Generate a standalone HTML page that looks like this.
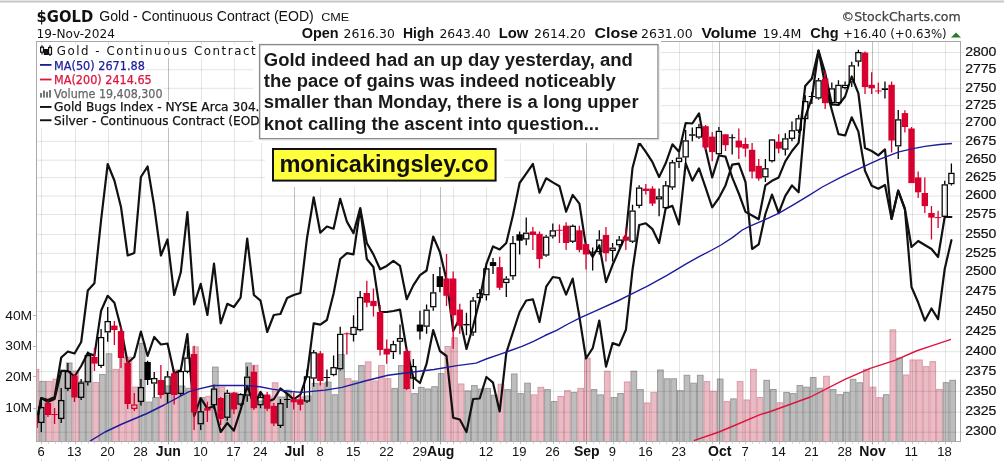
<!DOCTYPE html>
<html><head><meta charset="utf-8"><title>$GOLD chart</title>
<style>
html,body{margin:0;padding:0;background:#fff;}
body{width:1004px;height:461px;position:relative;overflow:hidden;}
</style></head><body>
<svg width="1004" height="461" viewBox="0 0 1004 461" style="position:absolute;left:0;top:0">
<defs><clipPath id="cp"><rect x="37.0" y="42.0" width="923.0" height="399.5"/></clipPath></defs>
<g clip-path="url(#cp)">
<rect x="33.14" y="369.40" width="5.64" height="74.10" fill="#e9bbc4" stroke="#dc98a5" stroke-width="1"/>
<rect x="39.78" y="381.40" width="5.64" height="62.10" fill="#bdbdbd" stroke="#9a9a9a" stroke-width="1"/>
<rect x="46.42" y="381.40" width="5.64" height="62.10" fill="#e9bbc4" stroke="#dc98a5" stroke-width="1"/>
<rect x="53.06" y="379.10" width="5.64" height="64.40" fill="#e9bbc4" stroke="#dc98a5" stroke-width="1"/>
<rect x="59.71" y="369.90" width="5.64" height="73.60" fill="#bdbdbd" stroke="#9a9a9a" stroke-width="1"/>
<rect x="66.35" y="363.00" width="5.64" height="80.50" fill="#bdbdbd" stroke="#9a9a9a" stroke-width="1"/>
<rect x="72.99" y="371.00" width="5.64" height="72.50" fill="#e9bbc4" stroke="#dc98a5" stroke-width="1"/>
<rect x="79.64" y="381.40" width="5.64" height="62.10" fill="#bdbdbd" stroke="#9a9a9a" stroke-width="1"/>
<rect x="86.28" y="353.80" width="5.64" height="89.70" fill="#bdbdbd" stroke="#9a9a9a" stroke-width="1"/>
<rect x="92.92" y="382.50" width="5.64" height="61.00" fill="#e9bbc4" stroke="#dc98a5" stroke-width="1"/>
<rect x="99.57" y="374.50" width="5.64" height="69.00" fill="#bdbdbd" stroke="#9a9a9a" stroke-width="1"/>
<rect x="106.21" y="353.80" width="5.64" height="89.70" fill="#bdbdbd" stroke="#9a9a9a" stroke-width="1"/>
<rect x="112.85" y="369.40" width="5.64" height="74.10" fill="#e9bbc4" stroke="#dc98a5" stroke-width="1"/>
<rect x="119.49" y="357.20" width="5.64" height="86.30" fill="#e9bbc4" stroke="#dc98a5" stroke-width="1"/>
<rect x="126.14" y="357.20" width="5.64" height="86.30" fill="#e9bbc4" stroke="#dc98a5" stroke-width="1"/>
<rect x="132.78" y="387.10" width="5.64" height="56.40" fill="#e9bbc4" stroke="#dc98a5" stroke-width="1"/>
<rect x="139.42" y="343.40" width="5.64" height="100.10" fill="#bdbdbd" stroke="#9a9a9a" stroke-width="1"/>
<rect x="146.07" y="402.10" width="5.64" height="41.40" fill="#bdbdbd" stroke="#9a9a9a" stroke-width="1"/>
<rect x="152.71" y="397.50" width="5.64" height="46.00" fill="#bdbdbd" stroke="#9a9a9a" stroke-width="1"/>
<rect x="159.35" y="381.40" width="5.64" height="62.10" fill="#e9bbc4" stroke="#dc98a5" stroke-width="1"/>
<rect x="166.00" y="386.00" width="5.64" height="57.50" fill="#bdbdbd" stroke="#9a9a9a" stroke-width="1"/>
<rect x="172.64" y="369.90" width="5.64" height="73.60" fill="#e9bbc4" stroke="#dc98a5" stroke-width="1"/>
<rect x="179.28" y="386.00" width="5.64" height="57.50" fill="#bdbdbd" stroke="#9a9a9a" stroke-width="1"/>
<rect x="185.92" y="388.30" width="5.64" height="55.20" fill="#bdbdbd" stroke="#9a9a9a" stroke-width="1"/>
<rect x="192.57" y="346.90" width="5.64" height="96.60" fill="#e9bbc4" stroke="#dc98a5" stroke-width="1"/>
<rect x="199.21" y="397.50" width="5.64" height="46.00" fill="#bdbdbd" stroke="#9a9a9a" stroke-width="1"/>
<rect x="205.85" y="396.30" width="5.64" height="47.20" fill="#e9bbc4" stroke="#dc98a5" stroke-width="1"/>
<rect x="212.50" y="367.10" width="5.64" height="76.40" fill="#bdbdbd" stroke="#9a9a9a" stroke-width="1"/>
<rect x="219.14" y="387.10" width="5.64" height="56.40" fill="#e9bbc4" stroke="#dc98a5" stroke-width="1"/>
<rect x="225.78" y="395.20" width="5.64" height="48.30" fill="#bdbdbd" stroke="#9a9a9a" stroke-width="1"/>
<rect x="232.43" y="392.90" width="5.64" height="50.60" fill="#e9bbc4" stroke="#dc98a5" stroke-width="1"/>
<rect x="239.07" y="395.20" width="5.64" height="48.30" fill="#bdbdbd" stroke="#9a9a9a" stroke-width="1"/>
<rect x="245.71" y="363.00" width="5.64" height="80.50" fill="#bdbdbd" stroke="#9a9a9a" stroke-width="1"/>
<rect x="252.35" y="365.30" width="5.64" height="78.20" fill="#e9bbc4" stroke="#dc98a5" stroke-width="1"/>
<rect x="259.00" y="401.00" width="5.64" height="42.50" fill="#bdbdbd" stroke="#9a9a9a" stroke-width="1"/>
<rect x="265.64" y="397.00" width="5.64" height="46.50" fill="#e9bbc4" stroke="#dc98a5" stroke-width="1"/>
<rect x="272.28" y="382.80" width="5.64" height="60.70" fill="#e9bbc4" stroke="#dc98a5" stroke-width="1"/>
<rect x="278.93" y="397.00" width="5.64" height="46.50" fill="#bdbdbd" stroke="#9a9a9a" stroke-width="1"/>
<rect x="285.57" y="390.20" width="5.64" height="53.30" fill="#bdbdbd" stroke="#9a9a9a" stroke-width="1"/>
<rect x="292.21" y="399.40" width="5.64" height="44.10" fill="#e9bbc4" stroke="#dc98a5" stroke-width="1"/>
<rect x="298.86" y="397.00" width="5.64" height="46.50" fill="#e9bbc4" stroke="#dc98a5" stroke-width="1"/>
<rect x="305.50" y="396.00" width="5.64" height="47.50" fill="#bdbdbd" stroke="#9a9a9a" stroke-width="1"/>
<rect x="312.14" y="383.30" width="5.64" height="60.20" fill="#bdbdbd" stroke="#9a9a9a" stroke-width="1"/>
<rect x="318.78" y="383.30" width="5.64" height="60.20" fill="#e9bbc4" stroke="#dc98a5" stroke-width="1"/>
<rect x="325.43" y="382.10" width="5.64" height="61.40" fill="#bdbdbd" stroke="#9a9a9a" stroke-width="1"/>
<rect x="332.07" y="394.80" width="5.64" height="48.70" fill="#bdbdbd" stroke="#9a9a9a" stroke-width="1"/>
<rect x="338.71" y="354.50" width="5.64" height="89.00" fill="#bdbdbd" stroke="#9a9a9a" stroke-width="1"/>
<rect x="345.36" y="378.70" width="5.64" height="64.80" fill="#e9bbc4" stroke="#dc98a5" stroke-width="1"/>
<rect x="352.00" y="381.00" width="5.64" height="62.50" fill="#bdbdbd" stroke="#9a9a9a" stroke-width="1"/>
<rect x="358.64" y="365.60" width="5.64" height="77.90" fill="#bdbdbd" stroke="#9a9a9a" stroke-width="1"/>
<rect x="365.29" y="361.90" width="5.64" height="81.60" fill="#e9bbc4" stroke="#dc98a5" stroke-width="1"/>
<rect x="371.93" y="381.00" width="5.64" height="62.50" fill="#e9bbc4" stroke="#dc98a5" stroke-width="1"/>
<rect x="378.57" y="365.60" width="5.64" height="77.90" fill="#e9bbc4" stroke="#dc98a5" stroke-width="1"/>
<rect x="385.21" y="378.70" width="5.64" height="64.80" fill="#e9bbc4" stroke="#dc98a5" stroke-width="1"/>
<rect x="391.86" y="388.40" width="5.64" height="55.10" fill="#bdbdbd" stroke="#9a9a9a" stroke-width="1"/>
<rect x="398.50" y="365.60" width="5.64" height="77.90" fill="#bdbdbd" stroke="#9a9a9a" stroke-width="1"/>
<rect x="405.14" y="351.10" width="5.64" height="92.40" fill="#e9bbc4" stroke="#dc98a5" stroke-width="1"/>
<rect x="411.79" y="393.60" width="5.64" height="49.90" fill="#bdbdbd" stroke="#9a9a9a" stroke-width="1"/>
<rect x="418.43" y="387.40" width="5.64" height="56.10" fill="#bdbdbd" stroke="#9a9a9a" stroke-width="1"/>
<rect x="425.07" y="389.00" width="5.64" height="54.50" fill="#bdbdbd" stroke="#9a9a9a" stroke-width="1"/>
<rect x="431.72" y="386.70" width="5.64" height="56.80" fill="#bdbdbd" stroke="#9a9a9a" stroke-width="1"/>
<rect x="438.36" y="373.60" width="5.64" height="69.90" fill="#bdbdbd" stroke="#9a9a9a" stroke-width="1"/>
<rect x="445.00" y="346.50" width="5.64" height="97.00" fill="#e9bbc4" stroke="#dc98a5" stroke-width="1"/>
<rect x="451.64" y="337.80" width="5.64" height="105.70" fill="#e9bbc4" stroke="#dc98a5" stroke-width="1"/>
<rect x="458.29" y="384.00" width="5.64" height="59.50" fill="#e9bbc4" stroke="#dc98a5" stroke-width="1"/>
<rect x="464.93" y="390.90" width="5.64" height="52.60" fill="#bdbdbd" stroke="#9a9a9a" stroke-width="1"/>
<rect x="471.57" y="385.60" width="5.64" height="57.90" fill="#bdbdbd" stroke="#9a9a9a" stroke-width="1"/>
<rect x="478.22" y="389.10" width="5.64" height="54.40" fill="#bdbdbd" stroke="#9a9a9a" stroke-width="1"/>
<rect x="484.86" y="388.40" width="5.64" height="55.10" fill="#bdbdbd" stroke="#9a9a9a" stroke-width="1"/>
<rect x="491.50" y="395.30" width="5.64" height="48.20" fill="#bdbdbd" stroke="#9a9a9a" stroke-width="1"/>
<rect x="498.15" y="384.30" width="5.64" height="59.20" fill="#e9bbc4" stroke="#dc98a5" stroke-width="1"/>
<rect x="504.79" y="389.60" width="5.64" height="53.90" fill="#bdbdbd" stroke="#9a9a9a" stroke-width="1"/>
<rect x="511.43" y="374.00" width="5.64" height="69.50" fill="#bdbdbd" stroke="#9a9a9a" stroke-width="1"/>
<rect x="518.07" y="393.70" width="5.64" height="49.80" fill="#bdbdbd" stroke="#9a9a9a" stroke-width="1"/>
<rect x="524.72" y="383.20" width="5.64" height="60.30" fill="#bdbdbd" stroke="#9a9a9a" stroke-width="1"/>
<rect x="531.36" y="394.90" width="5.64" height="48.60" fill="#e9bbc4" stroke="#dc98a5" stroke-width="1"/>
<rect x="538.00" y="387.30" width="5.64" height="56.20" fill="#e9bbc4" stroke="#dc98a5" stroke-width="1"/>
<rect x="544.65" y="389.60" width="5.64" height="53.90" fill="#bdbdbd" stroke="#9a9a9a" stroke-width="1"/>
<rect x="551.29" y="401.60" width="5.64" height="41.90" fill="#bdbdbd" stroke="#9a9a9a" stroke-width="1"/>
<rect x="557.93" y="396.50" width="5.64" height="47.00" fill="#e9bbc4" stroke="#dc98a5" stroke-width="1"/>
<rect x="564.58" y="390.70" width="5.64" height="52.80" fill="#e9bbc4" stroke="#dc98a5" stroke-width="1"/>
<rect x="571.22" y="392.40" width="5.64" height="51.10" fill="#bdbdbd" stroke="#9a9a9a" stroke-width="1"/>
<rect x="577.86" y="388.40" width="5.64" height="55.10" fill="#e9bbc4" stroke="#dc98a5" stroke-width="1"/>
<rect x="584.50" y="358.10" width="5.64" height="85.40" fill="#e9bbc4" stroke="#dc98a5" stroke-width="1"/>
<rect x="591.15" y="389.60" width="5.64" height="53.90" fill="#bdbdbd" stroke="#9a9a9a" stroke-width="1"/>
<rect x="597.79" y="394.90" width="5.64" height="48.60" fill="#bdbdbd" stroke="#9a9a9a" stroke-width="1"/>
<rect x="604.43" y="371.20" width="5.64" height="72.30" fill="#e9bbc4" stroke="#dc98a5" stroke-width="1"/>
<rect x="611.08" y="397.60" width="5.64" height="45.90" fill="#bdbdbd" stroke="#9a9a9a" stroke-width="1"/>
<rect x="617.72" y="393.50" width="5.64" height="50.00" fill="#bdbdbd" stroke="#9a9a9a" stroke-width="1"/>
<rect x="624.36" y="382.00" width="5.64" height="61.50" fill="#e9bbc4" stroke="#dc98a5" stroke-width="1"/>
<rect x="631.01" y="371.20" width="5.64" height="72.30" fill="#bdbdbd" stroke="#9a9a9a" stroke-width="1"/>
<rect x="637.65" y="389.60" width="5.64" height="53.90" fill="#bdbdbd" stroke="#9a9a9a" stroke-width="1"/>
<rect x="644.29" y="403.00" width="5.64" height="40.50" fill="#e9bbc4" stroke="#dc98a5" stroke-width="1"/>
<rect x="650.93" y="392.40" width="5.64" height="51.10" fill="#e9bbc4" stroke="#dc98a5" stroke-width="1"/>
<rect x="657.58" y="370.00" width="5.64" height="73.50" fill="#bdbdbd" stroke="#9a9a9a" stroke-width="1"/>
<rect x="664.22" y="378.80" width="5.64" height="64.70" fill="#bdbdbd" stroke="#9a9a9a" stroke-width="1"/>
<rect x="670.86" y="378.80" width="5.64" height="64.70" fill="#bdbdbd" stroke="#9a9a9a" stroke-width="1"/>
<rect x="677.51" y="390.70" width="5.64" height="52.80" fill="#bdbdbd" stroke="#9a9a9a" stroke-width="1"/>
<rect x="684.15" y="375.30" width="5.64" height="68.20" fill="#bdbdbd" stroke="#9a9a9a" stroke-width="1"/>
<rect x="690.79" y="383.20" width="5.64" height="60.30" fill="#bdbdbd" stroke="#9a9a9a" stroke-width="1"/>
<rect x="697.44" y="375.30" width="5.64" height="68.20" fill="#bdbdbd" stroke="#9a9a9a" stroke-width="1"/>
<rect x="704.08" y="381.60" width="5.64" height="61.90" fill="#e9bbc4" stroke="#dc98a5" stroke-width="1"/>
<rect x="710.72" y="391.30" width="5.64" height="52.20" fill="#e9bbc4" stroke="#dc98a5" stroke-width="1"/>
<rect x="717.36" y="379.10" width="5.64" height="64.40" fill="#bdbdbd" stroke="#9a9a9a" stroke-width="1"/>
<rect x="724.01" y="401.60" width="5.64" height="41.90" fill="#e9bbc4" stroke="#dc98a5" stroke-width="1"/>
<rect x="730.65" y="398.90" width="5.64" height="44.60" fill="#bdbdbd" stroke="#9a9a9a" stroke-width="1"/>
<rect x="737.29" y="381.60" width="5.64" height="61.90" fill="#e9bbc4" stroke="#dc98a5" stroke-width="1"/>
<rect x="743.94" y="400.00" width="5.64" height="43.50" fill="#e9bbc4" stroke="#dc98a5" stroke-width="1"/>
<rect x="750.58" y="369.40" width="5.64" height="74.10" fill="#e9bbc4" stroke="#dc98a5" stroke-width="1"/>
<rect x="757.22" y="397.50" width="5.64" height="46.00" fill="#e9bbc4" stroke="#dc98a5" stroke-width="1"/>
<rect x="763.87" y="380.30" width="5.64" height="63.20" fill="#bdbdbd" stroke="#9a9a9a" stroke-width="1"/>
<rect x="770.51" y="389.50" width="5.64" height="54.00" fill="#bdbdbd" stroke="#9a9a9a" stroke-width="1"/>
<rect x="777.15" y="402.80" width="5.64" height="40.70" fill="#e9bbc4" stroke="#dc98a5" stroke-width="1"/>
<rect x="783.79" y="392.40" width="5.64" height="51.10" fill="#bdbdbd" stroke="#9a9a9a" stroke-width="1"/>
<rect x="790.44" y="393.60" width="5.64" height="49.90" fill="#bdbdbd" stroke="#9a9a9a" stroke-width="1"/>
<rect x="797.08" y="385.50" width="5.64" height="58.00" fill="#bdbdbd" stroke="#9a9a9a" stroke-width="1"/>
<rect x="803.72" y="387.20" width="5.64" height="56.30" fill="#bdbdbd" stroke="#9a9a9a" stroke-width="1"/>
<rect x="810.37" y="377.50" width="5.64" height="66.00" fill="#bdbdbd" stroke="#9a9a9a" stroke-width="1"/>
<rect x="817.01" y="388.30" width="5.64" height="55.20" fill="#bdbdbd" stroke="#9a9a9a" stroke-width="1"/>
<rect x="823.65" y="376.30" width="5.64" height="67.20" fill="#e9bbc4" stroke="#dc98a5" stroke-width="1"/>
<rect x="830.30" y="389.50" width="5.64" height="54.00" fill="#bdbdbd" stroke="#9a9a9a" stroke-width="1"/>
<rect x="836.94" y="394.70" width="5.64" height="48.80" fill="#bdbdbd" stroke="#9a9a9a" stroke-width="1"/>
<rect x="843.58" y="392.40" width="5.64" height="51.10" fill="#bdbdbd" stroke="#9a9a9a" stroke-width="1"/>
<rect x="850.22" y="379.30" width="5.64" height="64.20" fill="#bdbdbd" stroke="#9a9a9a" stroke-width="1"/>
<rect x="856.87" y="382.80" width="5.64" height="60.70" fill="#bdbdbd" stroke="#9a9a9a" stroke-width="1"/>
<rect x="863.51" y="369.40" width="5.64" height="74.10" fill="#e9bbc4" stroke="#dc98a5" stroke-width="1"/>
<rect x="870.15" y="387.20" width="5.64" height="56.30" fill="#e9bbc4" stroke="#dc98a5" stroke-width="1"/>
<rect x="876.80" y="397.70" width="5.64" height="45.80" fill="#e9bbc4" stroke="#dc98a5" stroke-width="1"/>
<rect x="883.44" y="394.70" width="5.64" height="48.80" fill="#bdbdbd" stroke="#9a9a9a" stroke-width="1"/>
<rect x="890.08" y="329.90" width="5.64" height="113.60" fill="#e9bbc4" stroke="#dc98a5" stroke-width="1"/>
<rect x="896.73" y="358.00" width="5.64" height="85.50" fill="#bdbdbd" stroke="#9a9a9a" stroke-width="1"/>
<rect x="903.37" y="375.00" width="5.64" height="68.50" fill="#e9bbc4" stroke="#dc98a5" stroke-width="1"/>
<rect x="910.01" y="360.00" width="5.64" height="83.50" fill="#e9bbc4" stroke="#dc98a5" stroke-width="1"/>
<rect x="916.65" y="360.00" width="5.64" height="83.50" fill="#e9bbc4" stroke="#dc98a5" stroke-width="1"/>
<rect x="923.30" y="366.70" width="5.64" height="76.80" fill="#e9bbc4" stroke="#dc98a5" stroke-width="1"/>
<rect x="929.94" y="361.70" width="5.64" height="81.80" fill="#e9bbc4" stroke="#dc98a5" stroke-width="1"/>
<rect x="936.58" y="389.40" width="5.64" height="54.10" fill="#e9bbc4" stroke="#dc98a5" stroke-width="1"/>
<rect x="943.23" y="382.70" width="5.64" height="60.80" fill="#bdbdbd" stroke="#9a9a9a" stroke-width="1"/>
<rect x="949.87" y="380.30" width="5.64" height="63.20" fill="#bdbdbd" stroke="#9a9a9a" stroke-width="1"/>
</g>
<g stroke="#000" stroke-opacity="0.11" stroke-width="1"><line x1="36.5" y1="432.2" x2="964.0" y2="432.2"/><line x1="36.5" y1="412.2" x2="964.0" y2="412.2"/><line x1="36.5" y1="391.3" x2="964.0" y2="391.3"/><line x1="36.5" y1="371.6" x2="964.0" y2="371.6"/><line x1="36.5" y1="351.7" x2="964.0" y2="351.7"/><line x1="36.5" y1="331.7" x2="964.0" y2="331.7"/><line x1="36.5" y1="311.6" x2="964.0" y2="311.6"/><line x1="36.5" y1="291.6" x2="964.0" y2="291.6"/><line x1="36.5" y1="271.9" x2="964.0" y2="271.9"/><line x1="36.5" y1="253.4" x2="964.0" y2="253.4"/><line x1="36.5" y1="234.6" x2="964.0" y2="234.6"/><line x1="36.5" y1="214.6" x2="964.0" y2="214.6"/><line x1="36.5" y1="196.1" x2="964.0" y2="196.1"/><line x1="36.5" y1="177.6" x2="964.0" y2="177.6"/><line x1="36.5" y1="160.2" x2="964.0" y2="160.2"/><line x1="36.5" y1="141.4" x2="964.0" y2="141.4"/><line x1="36.5" y1="123.2" x2="964.0" y2="123.2"/><line x1="36.5" y1="105.6" x2="964.0" y2="105.6"/><line x1="36.5" y1="88.3" x2="964.0" y2="88.3"/><line x1="36.5" y1="69.8" x2="964.0" y2="69.8"/><line x1="36.5" y1="52.5" x2="964.0" y2="52.5"/></g>
<g stroke="#000" stroke-opacity="0.10" stroke-width="1"><line x1="41.5" y1="41.5" x2="41.5" y2="444.5"/><line x1="75.5" y1="41.5" x2="75.5" y2="444.5"/><line x1="108.5" y1="41.5" x2="108.5" y2="444.5"/><line x1="141.5" y1="41.5" x2="141.5" y2="444.5"/><line x1="201.5" y1="41.5" x2="201.5" y2="444.5"/><line x1="234.5" y1="41.5" x2="234.5" y2="444.5"/><line x1="261.5" y1="41.5" x2="261.5" y2="444.5"/><line x1="320.5" y1="41.5" x2="320.5" y2="444.5"/><line x1="354.5" y1="41.5" x2="354.5" y2="444.5"/><line x1="387.5" y1="41.5" x2="387.5" y2="444.5"/><line x1="420.5" y1="41.5" x2="420.5" y2="444.5"/><line x1="453.5" y1="41.5" x2="453.5" y2="444.5"/><line x1="486.5" y1="41.5" x2="486.5" y2="444.5"/><line x1="520.5" y1="41.5" x2="520.5" y2="444.5"/><line x1="553.5" y1="41.5" x2="553.5" y2="444.5"/><line x1="613.5" y1="41.5" x2="613.5" y2="444.5"/><line x1="646.5" y1="41.5" x2="646.5" y2="444.5"/><line x1="679.5" y1="41.5" x2="679.5" y2="444.5"/><line x1="712.5" y1="41.5" x2="712.5" y2="444.5"/><line x1="745.5" y1="41.5" x2="745.5" y2="444.5"/><line x1="779.5" y1="41.5" x2="779.5" y2="444.5"/><line x1="812.5" y1="41.5" x2="812.5" y2="444.5"/><line x1="845.5" y1="41.5" x2="845.5" y2="444.5"/><line x1="878.5" y1="41.5" x2="878.5" y2="444.5"/><line x1="912.5" y1="41.5" x2="912.5" y2="444.5"/><line x1="945.5" y1="41.5" x2="945.5" y2="444.5"/></g>
<g stroke="#000" stroke-opacity="0.25" stroke-width="1"><line x1="168.5" y1="41.5" x2="168.5" y2="444.5"/><line x1="294.5" y1="41.5" x2="294.5" y2="444.5"/><line x1="440.5" y1="41.5" x2="440.5" y2="444.5"/><line x1="586.5" y1="41.5" x2="586.5" y2="444.5"/><line x1="719.5" y1="41.5" x2="719.5" y2="444.5"/><line x1="872.5" y1="41.5" x2="872.5" y2="444.5"/></g>
<g stroke="#000" stroke-opacity="0.15" stroke-width="1"><line x1="41.5" y1="441.5" x2="41.5" y2="444.0"/><line x1="48.5" y1="441.5" x2="48.5" y2="444.0"/><line x1="55.5" y1="441.5" x2="55.5" y2="444.0"/><line x1="61.5" y1="441.5" x2="61.5" y2="444.0"/><line x1="68.5" y1="441.5" x2="68.5" y2="444.0"/><line x1="75.5" y1="441.5" x2="75.5" y2="444.0"/><line x1="81.5" y1="441.5" x2="81.5" y2="444.0"/><line x1="88.5" y1="441.5" x2="88.5" y2="444.0"/><line x1="94.5" y1="441.5" x2="94.5" y2="444.0"/><line x1="101.5" y1="441.5" x2="101.5" y2="444.0"/><line x1="108.5" y1="441.5" x2="108.5" y2="444.0"/><line x1="114.5" y1="441.5" x2="114.5" y2="444.0"/><line x1="121.5" y1="441.5" x2="121.5" y2="444.0"/><line x1="128.5" y1="441.5" x2="128.5" y2="444.0"/><line x1="134.5" y1="441.5" x2="134.5" y2="444.0"/><line x1="141.5" y1="441.5" x2="141.5" y2="444.0"/><line x1="148.5" y1="441.5" x2="148.5" y2="444.0"/><line x1="154.5" y1="441.5" x2="154.5" y2="444.0"/><line x1="161.5" y1="441.5" x2="161.5" y2="444.0"/><line x1="168.5" y1="441.5" x2="168.5" y2="444.0"/><line x1="174.5" y1="441.5" x2="174.5" y2="444.0"/><line x1="181.5" y1="441.5" x2="181.5" y2="444.0"/><line x1="187.5" y1="441.5" x2="187.5" y2="444.0"/><line x1="194.5" y1="441.5" x2="194.5" y2="444.0"/><line x1="201.5" y1="441.5" x2="201.5" y2="444.0"/><line x1="207.5" y1="441.5" x2="207.5" y2="444.0"/><line x1="214.5" y1="441.5" x2="214.5" y2="444.0"/><line x1="221.5" y1="441.5" x2="221.5" y2="444.0"/><line x1="227.5" y1="441.5" x2="227.5" y2="444.0"/><line x1="234.5" y1="441.5" x2="234.5" y2="444.0"/><line x1="241.5" y1="441.5" x2="241.5" y2="444.0"/><line x1="247.5" y1="441.5" x2="247.5" y2="444.0"/><line x1="254.5" y1="441.5" x2="254.5" y2="444.0"/><line x1="261.5" y1="441.5" x2="261.5" y2="444.0"/><line x1="267.5" y1="441.5" x2="267.5" y2="444.0"/><line x1="274.5" y1="441.5" x2="274.5" y2="444.0"/><line x1="280.5" y1="441.5" x2="280.5" y2="444.0"/><line x1="287.5" y1="441.5" x2="287.5" y2="444.0"/><line x1="294.5" y1="441.5" x2="294.5" y2="444.0"/><line x1="300.5" y1="441.5" x2="300.5" y2="444.0"/><line x1="307.5" y1="441.5" x2="307.5" y2="444.0"/><line x1="314.5" y1="441.5" x2="314.5" y2="444.0"/><line x1="320.5" y1="441.5" x2="320.5" y2="444.0"/><line x1="327.5" y1="441.5" x2="327.5" y2="444.0"/><line x1="334.5" y1="441.5" x2="334.5" y2="444.0"/><line x1="340.5" y1="441.5" x2="340.5" y2="444.0"/><line x1="347.5" y1="441.5" x2="347.5" y2="444.0"/><line x1="354.5" y1="441.5" x2="354.5" y2="444.0"/><line x1="360.5" y1="441.5" x2="360.5" y2="444.0"/><line x1="367.5" y1="441.5" x2="367.5" y2="444.0"/><line x1="373.5" y1="441.5" x2="373.5" y2="444.0"/><line x1="380.5" y1="441.5" x2="380.5" y2="444.0"/><line x1="387.5" y1="441.5" x2="387.5" y2="444.0"/><line x1="393.5" y1="441.5" x2="393.5" y2="444.0"/><line x1="400.5" y1="441.5" x2="400.5" y2="444.0"/><line x1="407.5" y1="441.5" x2="407.5" y2="444.0"/><line x1="413.5" y1="441.5" x2="413.5" y2="444.0"/><line x1="420.5" y1="441.5" x2="420.5" y2="444.0"/><line x1="427.5" y1="441.5" x2="427.5" y2="444.0"/><line x1="433.5" y1="441.5" x2="433.5" y2="444.0"/><line x1="440.5" y1="441.5" x2="440.5" y2="444.0"/><line x1="447.5" y1="441.5" x2="447.5" y2="444.0"/><line x1="453.5" y1="441.5" x2="453.5" y2="444.0"/><line x1="460.5" y1="441.5" x2="460.5" y2="444.0"/><line x1="466.5" y1="441.5" x2="466.5" y2="444.0"/><line x1="473.5" y1="441.5" x2="473.5" y2="444.0"/><line x1="480.5" y1="441.5" x2="480.5" y2="444.0"/><line x1="486.5" y1="441.5" x2="486.5" y2="444.0"/><line x1="493.5" y1="441.5" x2="493.5" y2="444.0"/><line x1="500.5" y1="441.5" x2="500.5" y2="444.0"/><line x1="506.5" y1="441.5" x2="506.5" y2="444.0"/><line x1="513.5" y1="441.5" x2="513.5" y2="444.0"/><line x1="520.5" y1="441.5" x2="520.5" y2="444.0"/><line x1="526.5" y1="441.5" x2="526.5" y2="444.0"/><line x1="533.5" y1="441.5" x2="533.5" y2="444.0"/><line x1="540.5" y1="441.5" x2="540.5" y2="444.0"/><line x1="546.5" y1="441.5" x2="546.5" y2="444.0"/><line x1="553.5" y1="441.5" x2="553.5" y2="444.0"/><line x1="559.5" y1="441.5" x2="559.5" y2="444.0"/><line x1="566.5" y1="441.5" x2="566.5" y2="444.0"/><line x1="573.5" y1="441.5" x2="573.5" y2="444.0"/><line x1="579.5" y1="441.5" x2="579.5" y2="444.0"/><line x1="586.5" y1="441.5" x2="586.5" y2="444.0"/><line x1="593.5" y1="441.5" x2="593.5" y2="444.0"/><line x1="599.5" y1="441.5" x2="599.5" y2="444.0"/><line x1="606.5" y1="441.5" x2="606.5" y2="444.0"/><line x1="613.5" y1="441.5" x2="613.5" y2="444.0"/><line x1="619.5" y1="441.5" x2="619.5" y2="444.0"/><line x1="626.5" y1="441.5" x2="626.5" y2="444.0"/><line x1="633.5" y1="441.5" x2="633.5" y2="444.0"/><line x1="639.5" y1="441.5" x2="639.5" y2="444.0"/><line x1="646.5" y1="441.5" x2="646.5" y2="444.0"/><line x1="652.5" y1="441.5" x2="652.5" y2="444.0"/><line x1="659.5" y1="441.5" x2="659.5" y2="444.0"/><line x1="666.5" y1="441.5" x2="666.5" y2="444.0"/><line x1="672.5" y1="441.5" x2="672.5" y2="444.0"/><line x1="679.5" y1="441.5" x2="679.5" y2="444.0"/><line x1="686.5" y1="441.5" x2="686.5" y2="444.0"/><line x1="692.5" y1="441.5" x2="692.5" y2="444.0"/><line x1="699.5" y1="441.5" x2="699.5" y2="444.0"/><line x1="706.5" y1="441.5" x2="706.5" y2="444.0"/><line x1="712.5" y1="441.5" x2="712.5" y2="444.0"/><line x1="719.5" y1="441.5" x2="719.5" y2="444.0"/><line x1="726.5" y1="441.5" x2="726.5" y2="444.0"/><line x1="732.5" y1="441.5" x2="732.5" y2="444.0"/><line x1="739.5" y1="441.5" x2="739.5" y2="444.0"/><line x1="745.5" y1="441.5" x2="745.5" y2="444.0"/><line x1="752.5" y1="441.5" x2="752.5" y2="444.0"/><line x1="759.5" y1="441.5" x2="759.5" y2="444.0"/><line x1="765.5" y1="441.5" x2="765.5" y2="444.0"/><line x1="772.5" y1="441.5" x2="772.5" y2="444.0"/><line x1="779.5" y1="441.5" x2="779.5" y2="444.0"/><line x1="785.5" y1="441.5" x2="785.5" y2="444.0"/><line x1="792.5" y1="441.5" x2="792.5" y2="444.0"/><line x1="799.5" y1="441.5" x2="799.5" y2="444.0"/><line x1="805.5" y1="441.5" x2="805.5" y2="444.0"/><line x1="812.5" y1="441.5" x2="812.5" y2="444.0"/><line x1="819.5" y1="441.5" x2="819.5" y2="444.0"/><line x1="825.5" y1="441.5" x2="825.5" y2="444.0"/><line x1="832.5" y1="441.5" x2="832.5" y2="444.0"/><line x1="838.5" y1="441.5" x2="838.5" y2="444.0"/><line x1="845.5" y1="441.5" x2="845.5" y2="444.0"/><line x1="852.5" y1="441.5" x2="852.5" y2="444.0"/><line x1="858.5" y1="441.5" x2="858.5" y2="444.0"/><line x1="865.5" y1="441.5" x2="865.5" y2="444.0"/><line x1="872.5" y1="441.5" x2="872.5" y2="444.0"/><line x1="878.5" y1="441.5" x2="878.5" y2="444.0"/><line x1="885.5" y1="441.5" x2="885.5" y2="444.0"/><line x1="892.5" y1="441.5" x2="892.5" y2="444.0"/><line x1="898.5" y1="441.5" x2="898.5" y2="444.0"/><line x1="905.5" y1="441.5" x2="905.5" y2="444.0"/><line x1="912.5" y1="441.5" x2="912.5" y2="444.0"/><line x1="918.5" y1="441.5" x2="918.5" y2="444.0"/><line x1="925.5" y1="441.5" x2="925.5" y2="444.0"/><line x1="931.5" y1="441.5" x2="931.5" y2="444.0"/><line x1="938.5" y1="441.5" x2="938.5" y2="444.0"/><line x1="945.5" y1="441.5" x2="945.5" y2="444.0"/><line x1="951.5" y1="441.5" x2="951.5" y2="444.0"/></g>
<g clip-path="url(#cp)">
<polyline fill="none" stroke="#111" stroke-width="2.2" stroke-linejoin="round" stroke-linecap="round" points="34.7,432.0 41.3,398.0 47.9,402.0 54.6,399.0 61.2,371.0 67.9,371.0 74.5,376.5 81.2,366.0 87.8,353.0 94.4,355.7 101.1,310.7 107.7,295.8 114.4,302.7 121.0,328.0 127.7,363.0 134.3,357.0 140.9,331.5 147.6,356.0 154.2,337.0 160.9,344.5 167.5,343.5 174.2,373.5 180.8,370.0 187.4,334.0 194.1,416.0 200.7,398.2 207.4,408.6 214.0,406.0 220.7,432.0 227.3,423.0 233.9,430.7 240.6,410.0 247.2,386.0 253.9,405.0 260.5,392.0 267.2,401.6 273.8,399.3 280.4,388.5 287.1,393.6 293.7,399.3 300.4,394.7 307.0,375.2 313.7,323.4 320.3,324.6 326.9,320.0 333.6,293.5 340.2,259.0 346.9,253.2 353.5,254.4 360.2,209.0 366.8,259.0 373.4,267.0 380.1,311.9 386.7,312.0 393.4,311.0 400.0,309.6 406.7,350.0 413.3,377.5 420.0,383.0 426.6,363.7 433.2,330.0 439.9,351.0 446.5,356.0 453.2,417.8 459.8,419.5 466.5,432.0 473.1,399.0 479.7,398.5 486.4,377.0 493.0,382.7 499.7,411.4 506.3,352.8 513.0,332.1 519.6,312.0 526.2,300.5 532.9,299.3 539.5,322.0 546.2,286.7 552.8,277.0 559.5,278.0 566.1,294.7 572.7,278.6 579.4,316.6 586.0,358.5 592.7,348.2 599.3,320.6 606.0,366.6 612.6,343.1 619.2,345.4 625.9,329.8 632.5,270.0 639.2,225.0 645.8,223.3 652.5,229.2 659.1,243.0 665.7,208.2 672.4,205.9 679.0,224.5 685.7,163.3 692.3,180.7 699.0,168.4 705.6,187.6 712.2,207.3 718.9,198.0 725.5,185.4 732.2,164.7 738.8,163.6 745.5,182.0 752.1,249.0 758.7,244.4 765.4,214.0 772.0,194.6 778.7,213.0 785.3,195.8 792.0,185.4 798.6,192.3 805.2,117.0 811.9,97.8 818.5,50.5 825.2,85.0 831.8,110.0 838.5,134.2 845.1,135.5 851.7,117.3 858.4,131.6 865.0,170.8 871.7,185.7 878.3,188.7 885.0,185.0 891.6,219.0 898.2,190.6 904.9,209.0 911.5,247.0 918.2,241.0 924.8,245.0 931.5,249.0 938.1,257.0 944.7,217.0 951.4,217.0"/>
<polyline fill="none" stroke="#111" stroke-width="2.2" stroke-linejoin="round" stroke-linecap="round" points="34.7,432.0 41.3,398.0 47.9,400.0 54.6,397.0 61.2,357.5 67.9,351.5 74.5,353.5 81.2,342.0 87.8,290.5 94.4,283.3 101.1,220.0 107.7,164.0 114.4,180.5 121.0,207.0 127.7,255.5 134.3,253.0 140.9,177.0 147.6,166.5 154.2,206.3 160.9,255.5 167.5,239.5 174.2,295.0 180.8,272.3 187.4,212.2 194.1,304.5 200.7,283.8 207.4,315.0 214.0,263.6 220.7,323.5 227.3,303.8 233.9,307.0 240.6,297.6 247.2,238.5 253.9,295.0 260.5,300.6 267.2,332.0 273.8,315.0 280.4,314.0 287.1,298.0 293.7,295.0 300.4,293.0 307.0,238.2 313.7,197.3 320.3,232.7 326.9,226.5 333.6,228.7 340.2,198.8 346.9,221.6 353.5,233.1 360.2,208.0 366.8,243.0 373.4,254.4 380.1,269.3 386.7,265.9 393.4,260.8 400.0,265.9 406.7,299.2 413.3,285.4 420.0,275.1 426.6,270.5 433.2,236.5 439.9,252.1 446.5,279.7 453.2,331.0 459.8,318.0 466.5,349.0 473.1,326.0 479.7,300.0 486.4,264.0 493.0,246.4 499.7,249.4 506.3,243.0 513.0,215.0 519.6,183.0 526.2,173.7 532.9,164.0 539.5,192.6 546.2,178.3 552.8,182.4 559.5,186.3 566.1,211.6 572.7,194.9 579.4,203.6 586.0,246.4 592.7,256.8 599.3,245.3 606.0,282.1 612.6,264.8 619.2,250.0 625.9,235.0 632.5,168.0 639.2,142.6 645.8,151.8 652.5,162.2 659.1,177.1 665.7,163.3 672.4,144.3 679.0,151.8 685.7,123.0 692.3,123.5 699.0,113.3 705.6,149.0 712.2,177.4 718.9,155.5 725.5,156.7 732.2,177.4 738.8,193.5 745.5,211.9 752.1,215.5 758.7,219.3 765.4,185.4 772.0,180.8 778.7,177.4 785.3,161.3 792.0,151.0 798.6,142.9 805.2,86.0 811.9,78.5 818.5,50.5 825.2,73.0 831.8,104.3 838.5,105.0 845.1,96.5 851.7,76.5 858.4,93.4 865.0,148.0 871.7,151.0 878.3,155.4 885.0,149.4 891.6,219.0 898.2,190.6 904.9,209.0 911.5,287.0 918.2,302.5 924.8,320.7 931.5,308.5 938.1,319.2 944.7,269.0 951.4,240.2"/>
<line x1="34.66" y1="410.0" x2="34.66" y2="432.0" stroke="#d8002e" stroke-width="1.3"/><rect x="31.46" y="415.0" width="6.40" height="13.0" fill="#d8002e"/><line x1="41.30" y1="399.0" x2="41.30" y2="407.0" stroke="#000" stroke-width="1.3"/><line x1="41.30" y1="423.0" x2="41.30" y2="432.0" stroke="#000" stroke-width="1.3"/><rect x="38.72" y="407.6" width="5.15" height="14.8" fill="none" stroke="#000" stroke-width="1.25"/><line x1="47.94" y1="401.0" x2="47.94" y2="417.0" stroke="#d8002e" stroke-width="1.3"/><rect x="44.74" y="403.0" width="6.40" height="12.0" fill="#d8002e"/><line x1="54.59" y1="408.0" x2="54.59" y2="424.0" stroke="#d8002e" stroke-width="1.3"/><rect x="51.39" y="414.0" width="6.40" height="1.0" fill="#d8002e"/><line x1="61.23" y1="388.0" x2="61.23" y2="400.0" stroke="#000" stroke-width="1.3"/><line x1="61.23" y1="419.0" x2="61.23" y2="423.0" stroke="#000" stroke-width="1.3"/><rect x="58.65" y="400.6" width="5.15" height="17.8" fill="none" stroke="#000" stroke-width="1.25"/><line x1="67.87" y1="363.0" x2="67.87" y2="371.0" stroke="#000" stroke-width="1.3"/><line x1="67.87" y1="389.0" x2="67.87" y2="391.0" stroke="#000" stroke-width="1.3"/><rect x="65.29" y="371.6" width="5.15" height="16.8" fill="none" stroke="#000" stroke-width="1.25"/><line x1="74.51" y1="374.0" x2="74.51" y2="402.0" stroke="#d8002e" stroke-width="1.3"/><rect x="71.31" y="375.6" width="6.40" height="21.9" fill="#d8002e"/><line x1="81.16" y1="379.0" x2="81.16" y2="382.5" stroke="#000" stroke-width="1.3"/><line x1="81.16" y1="398.0" x2="81.16" y2="400.0" stroke="#000" stroke-width="1.3"/><rect x="78.58" y="383.1" width="5.15" height="14.2" fill="none" stroke="#000" stroke-width="1.25"/><line x1="87.80" y1="351.5" x2="87.80" y2="355.0" stroke="#000" stroke-width="1.3"/><line x1="87.80" y1="382.5" x2="87.80" y2="385.5" stroke="#000" stroke-width="1.3"/><rect x="85.22" y="355.6" width="5.15" height="26.2" fill="none" stroke="#000" stroke-width="1.25"/><line x1="94.44" y1="348.0" x2="94.44" y2="371.0" stroke="#d8002e" stroke-width="1.3"/><rect x="91.24" y="357.0" width="6.40" height="6.6" fill="#d8002e"/><line x1="101.09" y1="329.0" x2="101.09" y2="337.0" stroke="#000" stroke-width="1.3"/><line x1="101.09" y1="366.0" x2="101.09" y2="368.0" stroke="#000" stroke-width="1.3"/><rect x="98.51" y="337.6" width="5.15" height="27.8" fill="none" stroke="#000" stroke-width="1.25"/><line x1="107.73" y1="307.0" x2="107.73" y2="321.0" stroke="#000" stroke-width="1.3"/><line x1="107.73" y1="332.5" x2="107.73" y2="341.7" stroke="#000" stroke-width="1.3"/><rect x="105.15" y="321.6" width="5.15" height="10.2" fill="none" stroke="#000" stroke-width="1.25"/><line x1="114.37" y1="321.0" x2="114.37" y2="345.0" stroke="#d8002e" stroke-width="1.3"/><rect x="111.17" y="325.6" width="6.40" height="4.4" fill="#d8002e"/><line x1="121.02" y1="326.8" x2="121.02" y2="368.0" stroke="#d8002e" stroke-width="1.3"/><rect x="117.82" y="331.0" width="6.40" height="27.0" fill="#d8002e"/><line x1="127.66" y1="358.0" x2="127.66" y2="409.0" stroke="#d8002e" stroke-width="1.3"/><rect x="124.46" y="363.0" width="6.40" height="41.0" fill="#d8002e"/><line x1="134.30" y1="393.0" x2="134.30" y2="404.4" stroke="#d8002e" stroke-width="1.3"/><line x1="134.30" y1="409.0" x2="134.30" y2="411.0" stroke="#d8002e" stroke-width="1.3"/><rect x="131.72" y="405.0" width="5.15" height="3.4" fill="none" stroke="#d8002e" stroke-width="1.25"/><line x1="140.94" y1="379.0" x2="140.94" y2="387.0" stroke="#000" stroke-width="1.3"/><line x1="140.94" y1="402.0" x2="140.94" y2="405.5" stroke="#000" stroke-width="1.3"/><rect x="138.37" y="387.6" width="5.15" height="13.8" fill="none" stroke="#000" stroke-width="1.25"/><line x1="147.59" y1="360.7" x2="147.59" y2="385.0" stroke="#000" stroke-width="1.3"/><rect x="144.39" y="362.0" width="6.40" height="18.0" fill="#000"/><line x1="154.23" y1="372.0" x2="154.23" y2="378.0" stroke="#000" stroke-width="1.3"/><line x1="154.23" y1="383.7" x2="154.23" y2="397.5" stroke="#000" stroke-width="1.3"/><rect x="151.65" y="378.6" width="5.15" height="4.4" fill="none" stroke="#000" stroke-width="1.25"/><line x1="160.87" y1="365.0" x2="160.87" y2="398.6" stroke="#d8002e" stroke-width="1.3"/><rect x="157.67" y="380.0" width="6.40" height="15.0" fill="#d8002e"/><line x1="167.52" y1="371.0" x2="167.52" y2="376.3" stroke="#000" stroke-width="1.3"/><line x1="167.52" y1="394.0" x2="167.52" y2="403.0" stroke="#000" stroke-width="1.3"/><rect x="164.94" y="376.9" width="5.15" height="16.4" fill="none" stroke="#000" stroke-width="1.25"/><line x1="174.16" y1="372.0" x2="174.16" y2="404.4" stroke="#d8002e" stroke-width="1.3"/><rect x="170.96" y="373.3" width="6.40" height="21.7" fill="#d8002e"/><line x1="180.80" y1="369.0" x2="180.80" y2="371.0" stroke="#000" stroke-width="1.3"/><line x1="180.80" y1="394.0" x2="180.80" y2="396.0" stroke="#000" stroke-width="1.3"/><rect x="178.22" y="371.6" width="5.15" height="21.8" fill="none" stroke="#000" stroke-width="1.25"/><line x1="187.45" y1="346.0" x2="187.45" y2="357.5" stroke="#000" stroke-width="1.3"/><line x1="187.45" y1="372.0" x2="187.45" y2="373.3" stroke="#000" stroke-width="1.3"/><rect x="184.87" y="358.1" width="5.15" height="13.2" fill="none" stroke="#000" stroke-width="1.25"/><line x1="194.09" y1="345.7" x2="194.09" y2="430.0" stroke="#d8002e" stroke-width="1.3"/><rect x="190.89" y="354.0" width="6.40" height="58.4" fill="#d8002e"/><line x1="200.73" y1="398.0" x2="200.73" y2="411.2" stroke="#000" stroke-width="1.3"/><line x1="200.73" y1="424.4" x2="200.73" y2="430.0" stroke="#000" stroke-width="1.3"/><rect x="198.15" y="411.8" width="5.15" height="11.9" fill="none" stroke="#000" stroke-width="1.25"/><line x1="207.38" y1="401.7" x2="207.38" y2="422.0" stroke="#d8002e" stroke-width="1.3"/><rect x="204.18" y="408.2" width="6.40" height="2.4" fill="#d8002e"/><line x1="214.02" y1="384.8" x2="214.02" y2="388.5" stroke="#000" stroke-width="1.3"/><line x1="214.02" y1="405.3" x2="214.02" y2="409.0" stroke="#000" stroke-width="1.3"/><rect x="211.44" y="389.1" width="5.15" height="15.6" fill="none" stroke="#000" stroke-width="1.25"/><line x1="220.66" y1="397.0" x2="220.66" y2="425.0" stroke="#d8002e" stroke-width="1.3"/><rect x="217.46" y="398.0" width="6.40" height="21.0" fill="#d8002e"/><line x1="227.30" y1="389.7" x2="227.30" y2="392.7" stroke="#000" stroke-width="1.3"/><line x1="227.30" y1="417.8" x2="227.30" y2="420.8" stroke="#000" stroke-width="1.3"/><rect x="224.72" y="393.3" width="5.15" height="23.9" fill="none" stroke="#000" stroke-width="1.25"/><line x1="233.95" y1="392.0" x2="233.95" y2="414.0" stroke="#d8002e" stroke-width="1.3"/><rect x="230.75" y="392.7" width="6.40" height="16.7" fill="#d8002e"/><line x1="240.59" y1="393.3" x2="240.59" y2="393.9" stroke="#000" stroke-width="1.3"/><line x1="240.59" y1="404.7" x2="240.59" y2="405.9" stroke="#000" stroke-width="1.3"/><rect x="238.01" y="394.5" width="5.15" height="9.6" fill="none" stroke="#000" stroke-width="1.25"/><line x1="247.23" y1="366.4" x2="247.23" y2="376.6" stroke="#000" stroke-width="1.3"/><line x1="247.23" y1="395.7" x2="247.23" y2="401.7" stroke="#000" stroke-width="1.3"/><rect x="244.65" y="377.2" width="5.15" height="17.8" fill="none" stroke="#000" stroke-width="1.25"/><line x1="253.88" y1="365.3" x2="253.88" y2="410.0" stroke="#d8002e" stroke-width="1.3"/><rect x="250.68" y="371.8" width="6.40" height="36.4" fill="#d8002e"/><line x1="260.52" y1="392.0" x2="260.52" y2="396.9" stroke="#000" stroke-width="1.3"/><line x1="260.52" y1="405.3" x2="260.52" y2="408.2" stroke="#000" stroke-width="1.3"/><rect x="257.94" y="397.5" width="5.15" height="7.2" fill="none" stroke="#000" stroke-width="1.25"/><line x1="267.16" y1="392.0" x2="267.16" y2="411.0" stroke="#d8002e" stroke-width="1.3"/><rect x="263.96" y="394.5" width="6.40" height="14.3" fill="#d8002e"/><line x1="273.81" y1="403.0" x2="273.81" y2="426.0" stroke="#d8002e" stroke-width="1.3"/><rect x="270.61" y="405.9" width="6.40" height="17.6" fill="#d8002e"/><line x1="280.45" y1="399.0" x2="280.45" y2="403.0" stroke="#000" stroke-width="1.3"/><line x1="280.45" y1="426.0" x2="280.45" y2="428.0" stroke="#000" stroke-width="1.3"/><rect x="277.87" y="403.6" width="5.15" height="21.8" fill="none" stroke="#000" stroke-width="1.25"/><line x1="287.09" y1="393.0" x2="287.09" y2="408.0" stroke="#000" stroke-width="1.3"/><rect x="283.89" y="399.0" width="6.40" height="1.0" fill="#000"/><line x1="293.73" y1="392.7" x2="293.73" y2="409.4" stroke="#d8002e" stroke-width="1.3"/><rect x="290.53" y="399.3" width="6.40" height="3.0" fill="#d8002e"/><line x1="300.38" y1="395.7" x2="300.38" y2="410.6" stroke="#d8002e" stroke-width="1.3"/><rect x="297.18" y="399.3" width="6.40" height="5.4" fill="#d8002e"/><line x1="307.02" y1="369.5" x2="307.02" y2="376.3" stroke="#000" stroke-width="1.3"/><line x1="307.02" y1="401.6" x2="307.02" y2="403.0" stroke="#000" stroke-width="1.3"/><rect x="304.44" y="376.9" width="5.15" height="24.1" fill="none" stroke="#000" stroke-width="1.25"/><line x1="313.66" y1="350.0" x2="313.66" y2="352.2" stroke="#000" stroke-width="1.3"/><line x1="313.66" y1="378.6" x2="313.66" y2="386.7" stroke="#000" stroke-width="1.3"/><rect x="311.08" y="352.8" width="5.15" height="25.2" fill="none" stroke="#000" stroke-width="1.25"/><line x1="320.31" y1="351.0" x2="320.31" y2="385.5" stroke="#d8002e" stroke-width="1.3"/><rect x="317.11" y="353.3" width="6.40" height="27.7" fill="#d8002e"/><line x1="326.95" y1="369.4" x2="326.95" y2="386.7" stroke="#000" stroke-width="1.3"/><rect x="323.75" y="377.0" width="6.40" height="1.0" fill="#000"/><line x1="333.59" y1="355.6" x2="333.59" y2="367.1" stroke="#000" stroke-width="1.3"/><line x1="333.59" y1="375.2" x2="333.59" y2="376.3" stroke="#000" stroke-width="1.3"/><rect x="331.01" y="367.7" width="5.15" height="6.8" fill="none" stroke="#000" stroke-width="1.25"/><line x1="340.24" y1="326.8" x2="340.24" y2="333.8" stroke="#000" stroke-width="1.3"/><line x1="340.24" y1="369.4" x2="340.24" y2="370.6" stroke="#000" stroke-width="1.3"/><rect x="337.66" y="334.4" width="5.15" height="34.3" fill="none" stroke="#000" stroke-width="1.25"/><line x1="346.88" y1="332.6" x2="346.88" y2="354.5" stroke="#d8002e" stroke-width="1.3"/><rect x="343.68" y="333.3" width="6.40" height="1.0" fill="#d8002e"/><line x1="353.52" y1="315.3" x2="353.52" y2="326.9" stroke="#000" stroke-width="1.3"/><line x1="353.52" y1="335.0" x2="353.52" y2="341.4" stroke="#000" stroke-width="1.3"/><rect x="350.94" y="327.5" width="5.15" height="6.9" fill="none" stroke="#000" stroke-width="1.25"/><line x1="360.16" y1="291.0" x2="360.16" y2="297.0" stroke="#000" stroke-width="1.3"/><line x1="360.16" y1="330.3" x2="360.16" y2="331.4" stroke="#000" stroke-width="1.3"/><rect x="357.58" y="297.6" width="5.15" height="32.1" fill="none" stroke="#000" stroke-width="1.25"/><line x1="366.81" y1="280.8" x2="366.81" y2="307.3" stroke="#d8002e" stroke-width="1.3"/><rect x="363.61" y="293.0" width="6.40" height="9.7" fill="#d8002e"/><line x1="373.45" y1="288.4" x2="373.45" y2="316.5" stroke="#d8002e" stroke-width="1.3"/><rect x="370.25" y="300.9" width="6.40" height="5.2" fill="#d8002e"/><line x1="380.09" y1="305.0" x2="380.09" y2="355.6" stroke="#d8002e" stroke-width="1.3"/><rect x="376.89" y="312.0" width="6.40" height="37.9" fill="#d8002e"/><line x1="386.74" y1="339.5" x2="386.74" y2="363.7" stroke="#d8002e" stroke-width="1.3"/><rect x="383.54" y="348.7" width="6.40" height="5.8" fill="#d8002e"/><line x1="393.38" y1="340.7" x2="393.38" y2="344.1" stroke="#000" stroke-width="1.3"/><line x1="393.38" y1="352.2" x2="393.38" y2="359.1" stroke="#000" stroke-width="1.3"/><rect x="390.80" y="344.7" width="5.15" height="6.8" fill="none" stroke="#000" stroke-width="1.25"/><line x1="400.02" y1="324.5" x2="400.02" y2="338.0" stroke="#000" stroke-width="1.3"/><line x1="400.02" y1="341.8" x2="400.02" y2="354.5" stroke="#000" stroke-width="1.3"/><rect x="397.44" y="338.6" width="5.15" height="2.6" fill="none" stroke="#000" stroke-width="1.25"/><line x1="406.67" y1="348.7" x2="406.67" y2="390.1" stroke="#d8002e" stroke-width="1.3"/><rect x="403.47" y="351.0" width="6.40" height="38.0" fill="#d8002e"/><line x1="413.31" y1="359.0" x2="413.31" y2="366.0" stroke="#000" stroke-width="1.3"/><line x1="413.31" y1="378.6" x2="413.31" y2="389.0" stroke="#000" stroke-width="1.3"/><rect x="410.73" y="366.6" width="5.15" height="11.4" fill="none" stroke="#000" stroke-width="1.25"/><line x1="419.95" y1="310.7" x2="419.95" y2="339.5" stroke="#000" stroke-width="1.3"/><rect x="416.75" y="324.6" width="6.40" height="6.9" fill="#000"/><line x1="426.59" y1="304.5" x2="426.59" y2="309.6" stroke="#000" stroke-width="1.3"/><line x1="426.59" y1="326.8" x2="426.59" y2="333.8" stroke="#000" stroke-width="1.3"/><rect x="424.01" y="310.2" width="5.15" height="15.9" fill="none" stroke="#000" stroke-width="1.25"/><line x1="433.24" y1="274.0" x2="433.24" y2="292.3" stroke="#000" stroke-width="1.3"/><line x1="433.24" y1="307.3" x2="433.24" y2="310.7" stroke="#000" stroke-width="1.3"/><rect x="430.66" y="292.9" width="5.15" height="13.8" fill="none" stroke="#000" stroke-width="1.25"/><line x1="439.88" y1="267.0" x2="439.88" y2="292.3" stroke="#000" stroke-width="1.3"/><rect x="436.68" y="276.2" width="6.40" height="10.8" fill="#000"/><line x1="446.52" y1="254.0" x2="446.52" y2="306.0" stroke="#d8002e" stroke-width="1.3"/><rect x="443.32" y="278.5" width="6.40" height="17.3" fill="#d8002e"/><line x1="453.17" y1="271.6" x2="453.17" y2="348.7" stroke="#d8002e" stroke-width="1.3"/><rect x="449.97" y="278.5" width="6.40" height="36.8" fill="#d8002e"/><line x1="459.81" y1="303.8" x2="459.81" y2="333.8" stroke="#d8002e" stroke-width="1.3"/><rect x="456.61" y="309.6" width="6.40" height="16.1" fill="#d8002e"/><line x1="466.45" y1="312.8" x2="466.45" y2="324.0" stroke="#000" stroke-width="1.3"/><line x1="466.45" y1="325.5" x2="466.45" y2="335.3" stroke="#000" stroke-width="1.3"/><rect x="463.87" y="324.6" width="5.15" height="0.2" fill="none" stroke="#000" stroke-width="1.25"/><line x1="473.09" y1="297.0" x2="473.09" y2="300.4" stroke="#000" stroke-width="1.3"/><line x1="473.09" y1="332.6" x2="473.09" y2="336.0" stroke="#000" stroke-width="1.3"/><rect x="470.51" y="301.0" width="5.15" height="31.0" fill="none" stroke="#000" stroke-width="1.25"/><line x1="479.74" y1="289.0" x2="479.74" y2="293.1" stroke="#000" stroke-width="1.3"/><line x1="479.74" y1="298.2" x2="479.74" y2="302.8" stroke="#000" stroke-width="1.3"/><rect x="477.16" y="293.7" width="5.15" height="3.8" fill="none" stroke="#000" stroke-width="1.25"/><line x1="486.38" y1="266.0" x2="486.38" y2="268.3" stroke="#000" stroke-width="1.3"/><line x1="486.38" y1="295.4" x2="486.38" y2="300.5" stroke="#000" stroke-width="1.3"/><rect x="483.80" y="268.9" width="5.15" height="25.8" fill="none" stroke="#000" stroke-width="1.25"/><line x1="493.02" y1="258.0" x2="493.02" y2="274.0" stroke="#000" stroke-width="1.3"/><rect x="489.82" y="262.1" width="6.40" height="3.9" fill="#000"/><line x1="499.67" y1="256.8" x2="499.67" y2="290.1" stroke="#d8002e" stroke-width="1.3"/><rect x="496.47" y="267.1" width="6.40" height="20.7" fill="#d8002e"/><line x1="506.31" y1="276.3" x2="506.31" y2="278.6" stroke="#000" stroke-width="1.3"/><line x1="506.31" y1="283.2" x2="506.31" y2="297.0" stroke="#000" stroke-width="1.3"/><rect x="503.73" y="279.2" width="5.15" height="3.3" fill="none" stroke="#000" stroke-width="1.25"/><line x1="512.95" y1="236.0" x2="512.95" y2="243.0" stroke="#000" stroke-width="1.3"/><line x1="512.95" y1="276.3" x2="512.95" y2="279.8" stroke="#000" stroke-width="1.3"/><rect x="510.37" y="243.6" width="5.15" height="32.1" fill="none" stroke="#000" stroke-width="1.25"/><line x1="519.60" y1="231.5" x2="519.60" y2="254.5" stroke="#000" stroke-width="1.3"/><rect x="516.40" y="234.3" width="6.40" height="6.4" fill="#000"/><line x1="526.24" y1="217.4" x2="526.24" y2="232.6" stroke="#000" stroke-width="1.3"/><line x1="526.24" y1="239.5" x2="526.24" y2="245.3" stroke="#000" stroke-width="1.3"/><rect x="523.66" y="233.2" width="5.15" height="5.7" fill="none" stroke="#000" stroke-width="1.25"/><line x1="532.88" y1="226.9" x2="532.88" y2="249.9" stroke="#d8002e" stroke-width="1.3"/><rect x="529.68" y="231.5" width="6.40" height="3.5" fill="#d8002e"/><line x1="539.52" y1="231.5" x2="539.52" y2="268.3" stroke="#d8002e" stroke-width="1.3"/><rect x="536.32" y="233.8" width="6.40" height="25.3" fill="#d8002e"/><line x1="546.17" y1="235.0" x2="546.17" y2="236.6" stroke="#000" stroke-width="1.3"/><line x1="546.17" y1="255.6" x2="546.17" y2="256.8" stroke="#000" stroke-width="1.3"/><rect x="543.59" y="237.2" width="5.15" height="17.8" fill="none" stroke="#000" stroke-width="1.25"/><line x1="552.81" y1="223.5" x2="552.81" y2="230.3" stroke="#000" stroke-width="1.3"/><line x1="552.81" y1="236.6" x2="552.81" y2="238.4" stroke="#000" stroke-width="1.3"/><rect x="550.23" y="230.9" width="5.15" height="5.0" fill="none" stroke="#000" stroke-width="1.25"/><line x1="559.45" y1="224.6" x2="559.45" y2="243.0" stroke="#d8002e" stroke-width="1.3"/><rect x="556.25" y="229.8" width="6.40" height="1.0" fill="#d8002e"/><line x1="566.10" y1="222.3" x2="566.10" y2="249.9" stroke="#d8002e" stroke-width="1.3"/><rect x="562.90" y="225.7" width="6.40" height="17.3" fill="#d8002e"/><line x1="572.74" y1="224.6" x2="572.74" y2="225.7" stroke="#000" stroke-width="1.3"/><line x1="572.74" y1="241.8" x2="572.74" y2="243.0" stroke="#000" stroke-width="1.3"/><rect x="570.16" y="226.3" width="5.15" height="14.9" fill="none" stroke="#000" stroke-width="1.25"/><line x1="579.38" y1="225.7" x2="579.38" y2="252.2" stroke="#d8002e" stroke-width="1.3"/><rect x="576.18" y="230.3" width="6.40" height="19.6" fill="#d8002e"/><line x1="586.03" y1="243.0" x2="586.03" y2="269.4" stroke="#d8002e" stroke-width="1.3"/><rect x="582.83" y="244.1" width="6.40" height="10.4" fill="#d8002e"/><line x1="592.67" y1="247.6" x2="592.67" y2="270.6" stroke="#000" stroke-width="1.3"/><rect x="589.47" y="251.7" width="6.40" height="1.0" fill="#000"/><line x1="599.31" y1="230.3" x2="599.31" y2="239.5" stroke="#000" stroke-width="1.3"/><line x1="599.31" y1="252.2" x2="599.31" y2="254.5" stroke="#000" stroke-width="1.3"/><rect x="596.73" y="240.1" width="5.15" height="11.4" fill="none" stroke="#000" stroke-width="1.25"/><line x1="605.95" y1="226.9" x2="605.95" y2="261.4" stroke="#d8002e" stroke-width="1.3"/><rect x="602.75" y="235.0" width="6.40" height="18.3" fill="#d8002e"/><line x1="612.60" y1="243.0" x2="612.60" y2="247.6" stroke="#000" stroke-width="1.3"/><line x1="612.60" y1="251.0" x2="612.60" y2="261.4" stroke="#000" stroke-width="1.3"/><rect x="610.02" y="248.2" width="5.15" height="2.2" fill="none" stroke="#000" stroke-width="1.25"/><line x1="619.24" y1="236.0" x2="619.24" y2="239.5" stroke="#000" stroke-width="1.3"/><line x1="619.24" y1="245.3" x2="619.24" y2="247.6" stroke="#000" stroke-width="1.3"/><rect x="616.66" y="240.1" width="5.15" height="4.6" fill="none" stroke="#000" stroke-width="1.25"/><line x1="625.88" y1="228.0" x2="625.88" y2="250.0" stroke="#d8002e" stroke-width="1.3"/><rect x="622.68" y="236.6" width="6.40" height="4.1" fill="#d8002e"/><line x1="632.53" y1="204.7" x2="632.53" y2="210.5" stroke="#000" stroke-width="1.3"/><line x1="632.53" y1="241.8" x2="632.53" y2="243.0" stroke="#000" stroke-width="1.3"/><rect x="629.95" y="211.1" width="5.15" height="30.1" fill="none" stroke="#000" stroke-width="1.25"/><line x1="639.17" y1="185.2" x2="639.17" y2="187.5" stroke="#000" stroke-width="1.3"/><line x1="639.17" y1="205.9" x2="639.17" y2="208.2" stroke="#000" stroke-width="1.3"/><rect x="636.59" y="188.1" width="5.15" height="17.2" fill="none" stroke="#000" stroke-width="1.25"/><line x1="645.81" y1="184.0" x2="645.81" y2="194.4" stroke="#d8002e" stroke-width="1.3"/><rect x="642.61" y="188.6" width="6.40" height="2.4" fill="#d8002e"/><line x1="652.46" y1="186.3" x2="652.46" y2="205.9" stroke="#d8002e" stroke-width="1.3"/><rect x="649.26" y="188.6" width="6.40" height="15.0" fill="#d8002e"/><line x1="659.10" y1="188.6" x2="659.10" y2="196.3" stroke="#000" stroke-width="1.3"/><line x1="659.10" y1="199.5" x2="659.10" y2="216.2" stroke="#000" stroke-width="1.3"/><rect x="656.52" y="196.9" width="5.15" height="1.9" fill="none" stroke="#000" stroke-width="1.25"/><line x1="665.74" y1="181.0" x2="665.74" y2="185.2" stroke="#000" stroke-width="1.3"/><line x1="665.74" y1="208.2" x2="665.74" y2="209.4" stroke="#000" stroke-width="1.3"/><rect x="663.16" y="185.8" width="5.15" height="21.8" fill="none" stroke="#000" stroke-width="1.25"/><line x1="672.38" y1="160.0" x2="672.38" y2="162.2" stroke="#000" stroke-width="1.3"/><line x1="672.38" y1="187.5" x2="672.38" y2="189.8" stroke="#000" stroke-width="1.3"/><rect x="669.80" y="162.8" width="5.15" height="24.1" fill="none" stroke="#000" stroke-width="1.25"/><line x1="679.03" y1="153.0" x2="679.03" y2="157.6" stroke="#000" stroke-width="1.3"/><line x1="679.03" y1="162.2" x2="679.03" y2="168.0" stroke="#000" stroke-width="1.3"/><rect x="676.45" y="158.2" width="5.15" height="3.3" fill="none" stroke="#000" stroke-width="1.25"/><line x1="685.67" y1="130.0" x2="685.67" y2="140.3" stroke="#000" stroke-width="1.3"/><line x1="685.67" y1="157.6" x2="685.67" y2="163.3" stroke="#000" stroke-width="1.3"/><rect x="683.09" y="140.9" width="5.15" height="16.0" fill="none" stroke="#000" stroke-width="1.25"/><line x1="692.31" y1="127.4" x2="692.31" y2="134.3" stroke="#000" stroke-width="1.3"/><line x1="692.31" y1="135.3" x2="692.31" y2="141.2" stroke="#000" stroke-width="1.3"/><rect x="689.73" y="134.9" width="5.15" height="0.2" fill="none" stroke="#000" stroke-width="1.25"/><line x1="698.96" y1="124.0" x2="698.96" y2="127.0" stroke="#000" stroke-width="1.3"/><line x1="698.96" y1="137.7" x2="698.96" y2="139.0" stroke="#000" stroke-width="1.3"/><rect x="696.38" y="127.6" width="5.15" height="9.4" fill="none" stroke="#000" stroke-width="1.25"/><line x1="705.60" y1="125.0" x2="705.60" y2="150.0" stroke="#d8002e" stroke-width="1.3"/><rect x="702.40" y="126.2" width="6.40" height="21.3" fill="#d8002e"/><line x1="712.24" y1="132.0" x2="712.24" y2="161.3" stroke="#d8002e" stroke-width="1.3"/><rect x="709.04" y="136.6" width="6.40" height="15.5" fill="#d8002e"/><line x1="718.89" y1="127.0" x2="718.89" y2="130.8" stroke="#000" stroke-width="1.3"/><line x1="718.89" y1="154.4" x2="718.89" y2="155.0" stroke="#000" stroke-width="1.3"/><rect x="716.31" y="131.4" width="5.15" height="22.3" fill="none" stroke="#000" stroke-width="1.25"/><line x1="725.53" y1="134.3" x2="725.53" y2="151.0" stroke="#d8002e" stroke-width="1.3"/><rect x="722.33" y="134.3" width="6.40" height="10.9" fill="#d8002e"/><line x1="732.17" y1="134.3" x2="732.17" y2="154.4" stroke="#000" stroke-width="1.3"/><rect x="728.97" y="137.2" width="6.40" height="1.0" fill="#000"/><line x1="738.81" y1="128.5" x2="738.81" y2="159.0" stroke="#d8002e" stroke-width="1.3"/><rect x="735.61" y="140.6" width="6.40" height="6.9" fill="#d8002e"/><line x1="745.46" y1="137.7" x2="745.46" y2="156.7" stroke="#d8002e" stroke-width="1.3"/><rect x="742.26" y="144.0" width="6.40" height="4.6" fill="#d8002e"/><line x1="752.10" y1="142.9" x2="752.10" y2="178.5" stroke="#d8002e" stroke-width="1.3"/><rect x="748.90" y="149.8" width="6.40" height="21.8" fill="#d8002e"/><line x1="758.74" y1="159.0" x2="758.74" y2="180.8" stroke="#d8002e" stroke-width="1.3"/><rect x="755.54" y="165.9" width="6.40" height="12.6" fill="#d8002e"/><line x1="765.39" y1="159.0" x2="765.39" y2="168.2" stroke="#000" stroke-width="1.3"/><line x1="765.39" y1="177.4" x2="765.39" y2="182.0" stroke="#000" stroke-width="1.3"/><rect x="762.81" y="168.8" width="5.15" height="8.0" fill="none" stroke="#000" stroke-width="1.25"/><line x1="772.03" y1="138.9" x2="772.03" y2="139.4" stroke="#000" stroke-width="1.3"/><line x1="772.03" y1="161.3" x2="772.03" y2="162.4" stroke="#000" stroke-width="1.3"/><rect x="769.45" y="140.0" width="5.15" height="20.7" fill="none" stroke="#000" stroke-width="1.25"/><line x1="778.67" y1="134.3" x2="778.67" y2="153.3" stroke="#d8002e" stroke-width="1.3"/><rect x="775.47" y="141.7" width="6.40" height="6.9" fill="#d8002e"/><line x1="785.32" y1="133.2" x2="785.32" y2="138.3" stroke="#000" stroke-width="1.3"/><line x1="785.32" y1="149.8" x2="785.32" y2="155.5" stroke="#000" stroke-width="1.3"/><rect x="782.74" y="138.9" width="5.15" height="10.2" fill="none" stroke="#000" stroke-width="1.25"/><line x1="791.96" y1="121.6" x2="791.96" y2="130.2" stroke="#000" stroke-width="1.3"/><line x1="791.96" y1="138.9" x2="791.96" y2="141.2" stroke="#000" stroke-width="1.3"/><rect x="789.38" y="130.8" width="5.15" height="7.5" fill="none" stroke="#000" stroke-width="1.25"/><line x1="798.60" y1="114.7" x2="798.60" y2="118.2" stroke="#000" stroke-width="1.3"/><line x1="798.60" y1="130.8" x2="798.60" y2="133.1" stroke="#000" stroke-width="1.3"/><rect x="796.02" y="118.8" width="5.15" height="11.4" fill="none" stroke="#000" stroke-width="1.25"/><line x1="805.24" y1="95.2" x2="805.24" y2="101.0" stroke="#000" stroke-width="1.3"/><line x1="805.24" y1="119.3" x2="805.24" y2="121.6" stroke="#000" stroke-width="1.3"/><rect x="802.66" y="101.6" width="5.15" height="17.0" fill="none" stroke="#000" stroke-width="1.25"/><line x1="811.89" y1="92.0" x2="811.89" y2="104.0" stroke="#000" stroke-width="1.3"/><rect x="808.69" y="96.0" width="6.40" height="1.0" fill="#000"/><line x1="818.53" y1="78.0" x2="818.53" y2="80.2" stroke="#000" stroke-width="1.3"/><line x1="818.53" y1="98.6" x2="818.53" y2="99.8" stroke="#000" stroke-width="1.3"/><rect x="815.95" y="80.8" width="5.15" height="17.1" fill="none" stroke="#000" stroke-width="1.25"/><line x1="825.17" y1="71.0" x2="825.17" y2="109.0" stroke="#d8002e" stroke-width="1.3"/><rect x="821.97" y="78.6" width="6.40" height="24.6" fill="#d8002e"/><line x1="831.82" y1="82.5" x2="831.82" y2="88.3" stroke="#000" stroke-width="1.3"/><line x1="831.82" y1="103.2" x2="831.82" y2="105.5" stroke="#000" stroke-width="1.3"/><rect x="829.24" y="88.9" width="5.15" height="13.7" fill="none" stroke="#000" stroke-width="1.25"/><line x1="838.46" y1="80.2" x2="838.46" y2="84.8" stroke="#000" stroke-width="1.3"/><line x1="838.46" y1="103.2" x2="838.46" y2="105.5" stroke="#000" stroke-width="1.3"/><rect x="835.88" y="85.4" width="5.15" height="17.2" fill="none" stroke="#000" stroke-width="1.25"/><line x1="845.10" y1="81.4" x2="845.10" y2="84.8" stroke="#000" stroke-width="1.3"/><line x1="845.10" y1="88.3" x2="845.10" y2="89.4" stroke="#000" stroke-width="1.3"/><rect x="842.52" y="85.4" width="5.15" height="2.2" fill="none" stroke="#000" stroke-width="1.25"/><line x1="851.75" y1="61.8" x2="851.75" y2="65.3" stroke="#000" stroke-width="1.3"/><line x1="851.75" y1="82.5" x2="851.75" y2="87.1" stroke="#000" stroke-width="1.3"/><rect x="849.17" y="65.9" width="5.15" height="16.0" fill="none" stroke="#000" stroke-width="1.25"/><line x1="858.39" y1="49.7" x2="858.39" y2="52.0" stroke="#000" stroke-width="1.3"/><line x1="858.39" y1="61.8" x2="858.39" y2="66.4" stroke="#000" stroke-width="1.3"/><rect x="855.81" y="52.6" width="5.15" height="8.5" fill="none" stroke="#000" stroke-width="1.25"/><line x1="865.03" y1="51.5" x2="865.03" y2="94.0" stroke="#d8002e" stroke-width="1.3"/><rect x="861.83" y="52.6" width="6.40" height="34.5" fill="#d8002e"/><line x1="871.67" y1="72.2" x2="871.67" y2="94.0" stroke="#d8002e" stroke-width="1.3"/><rect x="868.47" y="84.8" width="6.40" height="3.5" fill="#d8002e"/><line x1="878.32" y1="82.5" x2="878.32" y2="94.0" stroke="#d8002e" stroke-width="1.3"/><rect x="875.12" y="90.5" width="6.40" height="1.0" fill="#d8002e"/><line x1="884.96" y1="81.4" x2="884.96" y2="88.3" stroke="#000" stroke-width="1.3"/><line x1="884.96" y1="90.1" x2="884.96" y2="98.6" stroke="#000" stroke-width="1.3"/><rect x="882.38" y="88.9" width="5.15" height="0.5" fill="none" stroke="#000" stroke-width="1.25"/><line x1="891.60" y1="81.4" x2="891.60" y2="152.4" stroke="#d8002e" stroke-width="1.3"/><rect x="888.40" y="84.8" width="6.40" height="55.7" fill="#d8002e"/><line x1="898.25" y1="110.0" x2="898.25" y2="119.3" stroke="#000" stroke-width="1.3"/><line x1="898.25" y1="146.4" x2="898.25" y2="158.9" stroke="#000" stroke-width="1.3"/><rect x="895.67" y="119.9" width="5.15" height="25.9" fill="none" stroke="#000" stroke-width="1.25"/><line x1="904.89" y1="110.2" x2="904.89" y2="132.5" stroke="#d8002e" stroke-width="1.3"/><rect x="901.69" y="113.1" width="6.40" height="13.9" fill="#d8002e"/><line x1="911.53" y1="127.0" x2="911.53" y2="183.1" stroke="#d8002e" stroke-width="1.3"/><rect x="908.33" y="128.5" width="6.40" height="54.6" fill="#d8002e"/><line x1="918.18" y1="171.6" x2="918.18" y2="198.1" stroke="#d8002e" stroke-width="1.3"/><rect x="914.98" y="177.4" width="6.40" height="14.9" fill="#d8002e"/><line x1="924.82" y1="177.4" x2="924.82" y2="213.0" stroke="#d8002e" stroke-width="1.3"/><rect x="921.62" y="193.0" width="6.40" height="13.1" fill="#d8002e"/><line x1="931.46" y1="206.1" x2="931.46" y2="239.5" stroke="#d8002e" stroke-width="1.3"/><rect x="928.26" y="213.0" width="6.40" height="4.6" fill="#d8002e"/><line x1="938.10" y1="210.7" x2="938.10" y2="228.0" stroke="#d8002e" stroke-width="1.3"/><rect x="934.90" y="217.1" width="6.40" height="1.0" fill="#d8002e"/><line x1="944.75" y1="180.8" x2="944.75" y2="184.3" stroke="#000" stroke-width="1.3"/><line x1="944.75" y1="217.0" x2="944.75" y2="217.6" stroke="#000" stroke-width="1.3"/><rect x="942.17" y="184.9" width="5.15" height="31.4" fill="none" stroke="#000" stroke-width="1.25"/><line x1="951.39" y1="163.6" x2="951.39" y2="172.8" stroke="#000" stroke-width="1.3"/><line x1="951.39" y1="184.3" x2="951.39" y2="185.4" stroke="#000" stroke-width="1.3"/><rect x="948.81" y="173.4" width="5.15" height="10.2" fill="none" stroke="#000" stroke-width="1.25"/>
<polyline fill="none" stroke="#dc143c" stroke-width="1.4" stroke-linejoin="round"  points="693.8,440.7 718.9,432.0 733.3,426.0 760.0,414.7 769.0,412.0 810.4,397.0 844.9,379.3 870.2,368.3 895.5,360.2 916.2,351.0 930.0,346.4 951.0,339.3"/>
<polyline fill="none" stroke="#1c1c9c" stroke-width="1.4" stroke-linejoin="round"  points="90.0,441.2 105.0,432.0 122.0,424.0 147.0,413.5 164.0,405.0 188.6,391.8 198.0,389.1 213.5,385.5 245.8,385.5 260.0,386.7 272.0,389.1 290.0,391.5 302.0,392.4 325.0,390.1 342.0,387.4 365.0,381.0 388.0,375.2 411.0,372.3 434.0,369.5 457.0,365.6 476.0,363.1 487.5,358.5 499.0,354.6 510.5,350.5 522.0,346.4 533.5,341.3 545.0,335.5 556.5,330.3 568.0,324.0 579.5,318.1 599.0,309.3 618.6,300.5 630.3,294.7 647.9,285.9 667.4,275.1 687.0,263.4 700.0,256.2 711.0,250.5 721.0,245.0 732.4,237.6 742.3,230.0 749.4,226.3 763.5,220.4 779.0,213.2 794.1,204.3 808.2,195.8 822.3,187.0 839.2,178.2 850.5,172.6 864.6,166.2 880.0,159.2 898.9,151.9 911.9,148.9 924.8,146.4 939.8,144.5 952.0,143.5"/>
</g>
<rect x="36.5" y="41.5" width="924.0" height="400.0" fill="none" stroke="#a9a9a9" stroke-width="1"/>
<rect x="0" y="0" width="1004" height="1" fill="#dde7ef"/><rect x="0" y="1" width="1004" height="1" fill="#c6c6c6"/><rect x="0" y="2" width="1004" height="1" fill="#e2e2e2"/>
<text x="965.2" y="435.4" font-family="Liberation Sans, Arial, sans-serif" font-size="13" fill="#111" textLength="31.2" lengthAdjust="spacingAndGlyphs" stroke="#111" stroke-width="0.2">2300</text>
<text x="965.2" y="415.4" font-family="Liberation Sans, Arial, sans-serif" font-size="13" fill="#111" textLength="31.2" lengthAdjust="spacingAndGlyphs" stroke="#111" stroke-width="0.2">2325</text>
<text x="965.2" y="394.5" font-family="Liberation Sans, Arial, sans-serif" font-size="13" fill="#111" textLength="31.2" lengthAdjust="spacingAndGlyphs" stroke="#111" stroke-width="0.2">2350</text>
<text x="965.2" y="374.8" font-family="Liberation Sans, Arial, sans-serif" font-size="13" fill="#111" textLength="31.2" lengthAdjust="spacingAndGlyphs" stroke="#111" stroke-width="0.2">2375</text>
<text x="965.2" y="354.9" font-family="Liberation Sans, Arial, sans-serif" font-size="13" fill="#111" textLength="31.2" lengthAdjust="spacingAndGlyphs" stroke="#111" stroke-width="0.2">2400</text>
<text x="965.2" y="334.9" font-family="Liberation Sans, Arial, sans-serif" font-size="13" fill="#111" textLength="31.2" lengthAdjust="spacingAndGlyphs" stroke="#111" stroke-width="0.2">2425</text>
<text x="965.2" y="314.8" font-family="Liberation Sans, Arial, sans-serif" font-size="13" fill="#111" textLength="31.2" lengthAdjust="spacingAndGlyphs" stroke="#111" stroke-width="0.2">2450</text>
<text x="965.2" y="294.8" font-family="Liberation Sans, Arial, sans-serif" font-size="13" fill="#111" textLength="31.2" lengthAdjust="spacingAndGlyphs" stroke="#111" stroke-width="0.2">2475</text>
<text x="965.2" y="275.1" font-family="Liberation Sans, Arial, sans-serif" font-size="13" fill="#111" textLength="31.2" lengthAdjust="spacingAndGlyphs" stroke="#111" stroke-width="0.2">2500</text>
<text x="965.2" y="256.6" font-family="Liberation Sans, Arial, sans-serif" font-size="13" fill="#111" textLength="31.2" lengthAdjust="spacingAndGlyphs" stroke="#111" stroke-width="0.2">2525</text>
<text x="965.2" y="237.8" font-family="Liberation Sans, Arial, sans-serif" font-size="13" fill="#111" textLength="31.2" lengthAdjust="spacingAndGlyphs" stroke="#111" stroke-width="0.2">2550</text>
<text x="965.2" y="217.8" font-family="Liberation Sans, Arial, sans-serif" font-size="13" fill="#111" textLength="31.2" lengthAdjust="spacingAndGlyphs" stroke="#111" stroke-width="0.2">2575</text>
<text x="965.2" y="199.3" font-family="Liberation Sans, Arial, sans-serif" font-size="13" fill="#111" textLength="31.2" lengthAdjust="spacingAndGlyphs" stroke="#111" stroke-width="0.2">2600</text>
<text x="965.2" y="180.8" font-family="Liberation Sans, Arial, sans-serif" font-size="13" fill="#111" textLength="31.2" lengthAdjust="spacingAndGlyphs" stroke="#111" stroke-width="0.2">2625</text>
<text x="965.2" y="163.3" font-family="Liberation Sans, Arial, sans-serif" font-size="13" fill="#111" textLength="31.2" lengthAdjust="spacingAndGlyphs" stroke="#111" stroke-width="0.2">2650</text>
<text x="965.2" y="144.6" font-family="Liberation Sans, Arial, sans-serif" font-size="13" fill="#111" textLength="31.2" lengthAdjust="spacingAndGlyphs" stroke="#111" stroke-width="0.2">2675</text>
<text x="965.2" y="126.4" font-family="Liberation Sans, Arial, sans-serif" font-size="13" fill="#111" textLength="31.2" lengthAdjust="spacingAndGlyphs" stroke="#111" stroke-width="0.2">2700</text>
<text x="965.2" y="108.8" font-family="Liberation Sans, Arial, sans-serif" font-size="13" fill="#111" textLength="31.2" lengthAdjust="spacingAndGlyphs" stroke="#111" stroke-width="0.2">2725</text>
<text x="965.2" y="91.5" font-family="Liberation Sans, Arial, sans-serif" font-size="13" fill="#111" textLength="31.2" lengthAdjust="spacingAndGlyphs" stroke="#111" stroke-width="0.2">2750</text>
<text x="965.2" y="73.0" font-family="Liberation Sans, Arial, sans-serif" font-size="13" fill="#111" textLength="31.2" lengthAdjust="spacingAndGlyphs" stroke="#111" stroke-width="0.2">2775</text>
<text x="965.2" y="55.7" font-family="Liberation Sans, Arial, sans-serif" font-size="13" fill="#111" textLength="31.2" lengthAdjust="spacingAndGlyphs" stroke="#111" stroke-width="0.2">2800</text>
<text x="5.2" y="319.5" font-family="Liberation Sans, Arial, sans-serif" font-size="12.5" fill="#111" textLength="27.0" lengthAdjust="spacingAndGlyphs">40M</text>
<line x1="33" y1="315.5" x2="36" y2="315.5" stroke="#bbb"/>
<text x="5.2" y="350.0" font-family="Liberation Sans, Arial, sans-serif" font-size="12.5" fill="#111" textLength="27.0" lengthAdjust="spacingAndGlyphs">30M</text>
<line x1="33" y1="346.5" x2="36" y2="346.5" stroke="#bbb"/>
<text x="5.2" y="380.5" font-family="Liberation Sans, Arial, sans-serif" font-size="12.5" fill="#111" textLength="27.0" lengthAdjust="spacingAndGlyphs">20M</text>
<line x1="33" y1="376.5" x2="36" y2="376.5" stroke="#bbb"/>
<text x="5.2" y="412.2" font-family="Liberation Sans, Arial, sans-serif" font-size="12.5" fill="#111" textLength="27.0" lengthAdjust="spacingAndGlyphs">10M</text>
<line x1="33" y1="408.5" x2="36" y2="408.5" stroke="#bbb"/>
<text x="41.0" y="455.7" font-family="Liberation Sans, Arial, sans-serif" font-size="13" fill="#111" text-anchor="middle">6</text>
<line x1="41.5" y1="459" x2="41.5" y2="461" stroke="#ccc"/>
<text x="74.2" y="455.7" font-family="Liberation Sans, Arial, sans-serif" font-size="13" fill="#111" text-anchor="middle">13</text>
<line x1="75.5" y1="459" x2="75.5" y2="461" stroke="#ccc"/>
<text x="107.4" y="455.7" font-family="Liberation Sans, Arial, sans-serif" font-size="13" fill="#111" text-anchor="middle">20</text>
<line x1="108.5" y1="459" x2="108.5" y2="461" stroke="#ccc"/>
<text x="140.6" y="455.7" font-family="Liberation Sans, Arial, sans-serif" font-size="13" fill="#111" text-anchor="middle">28</text>
<line x1="141.5" y1="459" x2="141.5" y2="461" stroke="#ccc"/>
<text x="168.3" y="455.7" font-family="Liberation Sans, Arial, sans-serif" font-size="14" fill="#111" font-weight="bold" text-anchor="middle">Jun</text>
<line x1="168.5" y1="459" x2="168.5" y2="461" stroke="#ccc"/>
<text x="200.4" y="455.7" font-family="Liberation Sans, Arial, sans-serif" font-size="13" fill="#111" text-anchor="middle">10</text>
<line x1="201.5" y1="459" x2="201.5" y2="461" stroke="#ccc"/>
<text x="233.6" y="455.7" font-family="Liberation Sans, Arial, sans-serif" font-size="13" fill="#111" text-anchor="middle">17</text>
<line x1="234.5" y1="459" x2="234.5" y2="461" stroke="#ccc"/>
<text x="260.2" y="455.7" font-family="Liberation Sans, Arial, sans-serif" font-size="13" fill="#111" text-anchor="middle">24</text>
<line x1="261.5" y1="459" x2="261.5" y2="461" stroke="#ccc"/>
<text x="294.5" y="455.7" font-family="Liberation Sans, Arial, sans-serif" font-size="14" fill="#111" font-weight="bold" text-anchor="middle">Jul</text>
<line x1="294.5" y1="459" x2="294.5" y2="461" stroke="#ccc"/>
<text x="320.0" y="455.7" font-family="Liberation Sans, Arial, sans-serif" font-size="13" fill="#111" text-anchor="middle">8</text>
<line x1="320.5" y1="459" x2="320.5" y2="461" stroke="#ccc"/>
<text x="353.2" y="455.7" font-family="Liberation Sans, Arial, sans-serif" font-size="13" fill="#111" text-anchor="middle">15</text>
<line x1="354.5" y1="459" x2="354.5" y2="461" stroke="#ccc"/>
<text x="386.4" y="455.7" font-family="Liberation Sans, Arial, sans-serif" font-size="13" fill="#111" text-anchor="middle">22</text>
<line x1="387.5" y1="459" x2="387.5" y2="461" stroke="#ccc"/>
<text x="419.7" y="455.7" font-family="Liberation Sans, Arial, sans-serif" font-size="13" fill="#111" text-anchor="middle">29</text>
<line x1="420.5" y1="459" x2="420.5" y2="461" stroke="#ccc"/>
<text x="440.7" y="455.7" font-family="Liberation Sans, Arial, sans-serif" font-size="14" fill="#111" font-weight="bold" text-anchor="middle">Aug</text>
<line x1="440.5" y1="459" x2="440.5" y2="461" stroke="#ccc"/>
<text x="486.1" y="455.7" font-family="Liberation Sans, Arial, sans-serif" font-size="13" fill="#111" text-anchor="middle">12</text>
<line x1="486.5" y1="459" x2="486.5" y2="461" stroke="#ccc"/>
<text x="519.3" y="455.7" font-family="Liberation Sans, Arial, sans-serif" font-size="13" fill="#111" text-anchor="middle">19</text>
<line x1="520.5" y1="459" x2="520.5" y2="461" stroke="#ccc"/>
<text x="552.5" y="455.7" font-family="Liberation Sans, Arial, sans-serif" font-size="13" fill="#111" text-anchor="middle">26</text>
<line x1="553.5" y1="459" x2="553.5" y2="461" stroke="#ccc"/>
<text x="586.8" y="455.7" font-family="Liberation Sans, Arial, sans-serif" font-size="14" fill="#111" font-weight="bold" text-anchor="middle">Sep</text>
<line x1="586.5" y1="459" x2="586.5" y2="461" stroke="#ccc"/>
<text x="612.3" y="455.7" font-family="Liberation Sans, Arial, sans-serif" font-size="13" fill="#111" text-anchor="middle">9</text>
<line x1="613.5" y1="459" x2="613.5" y2="461" stroke="#ccc"/>
<text x="645.5" y="455.7" font-family="Liberation Sans, Arial, sans-serif" font-size="13" fill="#111" text-anchor="middle">16</text>
<line x1="646.5" y1="459" x2="646.5" y2="461" stroke="#ccc"/>
<text x="678.7" y="455.7" font-family="Liberation Sans, Arial, sans-serif" font-size="13" fill="#111" text-anchor="middle">23</text>
<line x1="679.5" y1="459" x2="679.5" y2="461" stroke="#ccc"/>
<line x1="712.5" y1="459" x2="712.5" y2="461" stroke="#ccc"/>
<text x="719.7" y="455.7" font-family="Liberation Sans, Arial, sans-serif" font-size="14" fill="#111" font-weight="bold" text-anchor="middle">Oct</text>
<line x1="719.5" y1="459" x2="719.5" y2="461" stroke="#ccc"/>
<text x="745.2" y="455.7" font-family="Liberation Sans, Arial, sans-serif" font-size="13" fill="#111" text-anchor="middle">7</text>
<line x1="745.5" y1="459" x2="745.5" y2="461" stroke="#ccc"/>
<text x="778.4" y="455.7" font-family="Liberation Sans, Arial, sans-serif" font-size="13" fill="#111" text-anchor="middle">14</text>
<line x1="779.5" y1="459" x2="779.5" y2="461" stroke="#ccc"/>
<text x="811.6" y="455.7" font-family="Liberation Sans, Arial, sans-serif" font-size="13" fill="#111" text-anchor="middle">21</text>
<line x1="812.5" y1="459" x2="812.5" y2="461" stroke="#ccc"/>
<text x="844.8" y="455.7" font-family="Liberation Sans, Arial, sans-serif" font-size="13" fill="#111" text-anchor="middle">28</text>
<line x1="845.5" y1="459" x2="845.5" y2="461" stroke="#ccc"/>
<text x="872.5" y="455.7" font-family="Liberation Sans, Arial, sans-serif" font-size="14" fill="#111" font-weight="bold" text-anchor="middle">Nov</text>
<line x1="872.5" y1="459" x2="872.5" y2="461" stroke="#ccc"/>
<text x="911.2" y="455.7" font-family="Liberation Sans, Arial, sans-serif" font-size="13" fill="#111" text-anchor="middle">11</text>
<line x1="912.5" y1="459" x2="912.5" y2="461" stroke="#ccc"/>
<text x="944.4" y="455.7" font-family="Liberation Sans, Arial, sans-serif" font-size="13" fill="#111" text-anchor="middle">18</text>
<line x1="945.5" y1="459" x2="945.5" y2="461" stroke="#ccc"/>
<text x="36.6" y="21.6" font-family="DejaVu Sans Condensed, DejaVu Sans, sans-serif" font-size="16.5" fill="#111" font-weight="bold" textLength="56.6" lengthAdjust="spacingAndGlyphs">$GOLD</text>
<text x="99.3" y="21.4" font-family="Liberation Sans, Arial, sans-serif" font-size="14" fill="#111" textLength="214.5" lengthAdjust="spacingAndGlyphs">Gold - Continuous Contract (EOD)</text>
<text x="321.2" y="20.7" font-family="Liberation Sans, Arial, sans-serif" font-size="11" fill="#111" textLength="28.1" lengthAdjust="spacingAndGlyphs">CME</text>
<text x="36.6" y="37.8" font-family="DejaVu Sans, Verdana, sans-serif" font-size="12" fill="#111" textLength="78.4" lengthAdjust="spacingAndGlyphs">19-Nov-2024</text>
<text x="841.6" y="21.3" font-family="DejaVu Sans, Verdana, sans-serif" font-size="12.6" fill="#444" textLength="119.2" lengthAdjust="spacingAndGlyphs" stroke="#444" stroke-width="0.25">©StockCharts.com</text>
<text x="301.7" y="38.2" font-family="Liberation Sans, Arial, sans-serif" font-size="14" fill="#111" font-weight="bold" textLength="36.9" lengthAdjust="spacingAndGlyphs">Open</text>
<text x="343.6" y="38.2" font-family="DejaVu Sans, Verdana, sans-serif" font-size="12.2" fill="#111" textLength="51.2" lengthAdjust="spacingAndGlyphs">2616.30</text>
<text x="403.0" y="38.2" font-family="Liberation Sans, Arial, sans-serif" font-size="14" fill="#111" font-weight="bold" textLength="31.0" lengthAdjust="spacingAndGlyphs">High</text>
<text x="439.4" y="38.2" font-family="DejaVu Sans, Verdana, sans-serif" font-size="12.2" fill="#111" textLength="51.3" lengthAdjust="spacingAndGlyphs">2643.40</text>
<text x="498.7" y="38.2" font-family="Liberation Sans, Arial, sans-serif" font-size="14" fill="#111" font-weight="bold" textLength="29.6" lengthAdjust="spacingAndGlyphs">Low</text>
<text x="534.0" y="38.2" font-family="DejaVu Sans, Verdana, sans-serif" font-size="12.2" fill="#111" textLength="51.8" lengthAdjust="spacingAndGlyphs">2614.20</text>
<text x="594.5" y="38.2" font-family="Liberation Sans, Arial, sans-serif" font-size="14" fill="#111" font-weight="bold" textLength="43.5" lengthAdjust="spacingAndGlyphs">Close</text>
<text x="641.0" y="38.2" font-family="DejaVu Sans, Verdana, sans-serif" font-size="12.2" fill="#111" textLength="51.6" lengthAdjust="spacingAndGlyphs">2631.00</text>
<text x="701.5" y="38.2" font-family="Liberation Sans, Arial, sans-serif" font-size="14" fill="#111" font-weight="bold" textLength="55.2" lengthAdjust="spacingAndGlyphs">Volume</text>
<text x="762.6" y="38.2" font-family="DejaVu Sans, Verdana, sans-serif" font-size="12.2" fill="#111" textLength="38.8" lengthAdjust="spacingAndGlyphs">19.4M</text>
<text x="810.3" y="38.2" font-family="Liberation Sans, Arial, sans-serif" font-size="14" fill="#111" font-weight="bold" textLength="28.3" lengthAdjust="spacingAndGlyphs">Chg</text>
<text x="843.0" y="38.2" font-family="DejaVu Sans, Verdana, sans-serif" font-size="12.2" fill="#111" textLength="103.7" lengthAdjust="spacingAndGlyphs">+16.40 (+0.63%)</text>
<polygon points="951,37.5 956,32.5 961,37.5" fill="#2a7a2a"/>
<rect x="253" y="41" width="408" height="102" fill="#fff"/>
<clipPath id="lc"><rect x="0" y="0" width="259.2" height="461"/></clipPath>
<g clip-path="url(#lc)">
<rect x="37" y="44.5" width="219.6" height="13.5" fill="#fff"/>
<rect x="37" y="59.3" width="108.8" height="13.5" fill="#fff"/>
<rect x="37" y="73.5" width="115.7" height="13.5" fill="#fff"/>
<rect x="37" y="87.4" width="126.5" height="13.5" fill="#fff"/>
<rect x="37" y="100.9" width="223.5" height="13.5" fill="#fff"/>
<rect x="37" y="114.2" width="223.5" height="13.5" fill="#fff"/>
<text x="56.7" y="55.0" font-family="DejaVu Sans, Verdana, sans-serif" font-size="11.8" fill="#111" textLength="198.9" lengthAdjust="spacing">Gold - Continuous Contract</text>
<text x="54.1" y="69.8" font-family="DejaVu Sans, Verdana, sans-serif" font-size="11.8" fill="#1c1c9c" textLength="90.7" lengthAdjust="spacingAndGlyphs" stroke="#1c1c9c" stroke-width="0.25">MA(50) 2671.88</text>
<text x="54.1" y="84.0" font-family="DejaVu Sans, Verdana, sans-serif" font-size="11.8" fill="#dc143c" textLength="97.6" lengthAdjust="spacingAndGlyphs" stroke="#dc143c" stroke-width="0.25">MA(200) 2414.65</text>
<text x="54.1" y="97.9" font-family="DejaVu Sans, Verdana, sans-serif" font-size="11.8" fill="#666" textLength="108.4" lengthAdjust="spacingAndGlyphs" stroke="#666" stroke-width="0.25">Volume 19,408,300</text>
<text x="54.1" y="111.4" font-family="DejaVu Sans, Verdana, sans-serif" font-size="11.8" fill="#111" textLength="205.4" lengthAdjust="spacingAndGlyphs" stroke="#111" stroke-width="0.25">Gold Bugs Index - NYSE Arca 304.</text>
<text x="54.1" y="124.7" font-family="DejaVu Sans, Verdana, sans-serif" font-size="11.8" fill="#111" textLength="205.4" lengthAdjust="spacingAndGlyphs" stroke="#111" stroke-width="0.25">Silver - Continuous Contract (EOD</text>
</g>
<g stroke-width="1.2" stroke="#111"><line x1="42" y1="45.3" x2="42" y2="54.5"/><rect x="40.6" y="47.2" width="2.9" height="5" fill="#fff"/><rect x="43.8" y="49" width="4.4" height="6" fill="#111" stroke="none"/><line x1="50" y1="45.3" x2="50" y2="56"/><rect x="48.6" y="47.5" width="2.9" height="6.8" fill="#fff"/></g>
<rect x="40" y="64" width="11.5" height="1.8" fill="#1c1c9c"/>
<rect x="40" y="78.6" width="11.5" height="1.8" fill="#dc143c"/>
<g fill="#777"><rect x="40" y="93" width="2" height="4.6"/><rect x="43" y="90.5" width="2" height="7.1"/><rect x="46" y="91.8" width="2" height="5.8"/><rect x="49" y="90" width="2" height="7.6"/></g>
<rect x="40" y="106" width="11.5" height="1.9" fill="#111"/>
<rect x="40" y="119.3" width="11.5" height="1.9" fill="#111"/>
<rect x="259.6" y="44.6" width="398.4" height="94.1" fill="#fff" stroke="#8a8a8a" stroke-width="1.4"/>
<line x1="261" y1="140" x2="659" y2="140" stroke="#e4e4e4"/><line x1="659.3" y1="46" x2="659.3" y2="140.5" stroke="#e4e4e4"/>
<text x="263.8" y="65.7" font-family="Liberation Sans, Arial, sans-serif" font-size="17.5" fill="#1a1a1a" font-weight="bold" textLength="369.0" lengthAdjust="spacingAndGlyphs">Gold indeed had an up day yesterday, and</text>
<text x="263.8" y="87.0" font-family="Liberation Sans, Arial, sans-serif" font-size="17.5" fill="#1a1a1a" font-weight="bold" textLength="352.0" lengthAdjust="spacingAndGlyphs">the pace of gains was indeed noticeably</text>
<text x="263.8" y="108.3" font-family="Liberation Sans, Arial, sans-serif" font-size="17.5" fill="#1a1a1a" font-weight="bold" textLength="374.8" lengthAdjust="spacingAndGlyphs">smaller than Monday, there is a long upper</text>
<text x="263.8" y="129.6" font-family="Liberation Sans, Arial, sans-serif" font-size="17.5" fill="#1a1a1a" font-weight="bold" textLength="335.3" lengthAdjust="spacingAndGlyphs">knot calling the ascent into question...</text>
<rect x="265" y="143" width="239" height="44" fill="#fff"/>
<rect x="273" y="149" width="222.6" height="31.6" fill="#ffff3c" stroke="#111" stroke-width="2"/>
<text x="279.4" y="171.9" font-family="Liberation Sans, Arial, sans-serif" font-size="23" fill="#111" font-weight="bold" textLength="209.2" lengthAdjust="spacingAndGlyphs">monicakingsley.co</text>
</svg>
</body></html>
